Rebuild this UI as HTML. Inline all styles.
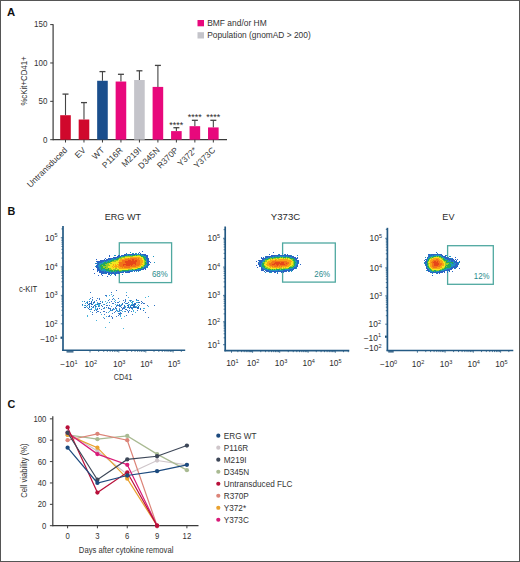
<!DOCTYPE html>
<html><head><meta charset="utf-8"><style>
html,body{margin:0;padding:0;background:#fff;}
#fig{position:relative;width:520px;height:562px;overflow:hidden;}
svg{display:block;font-family:"Liberation Sans", sans-serif;}
</style></head><body><div id="fig">
<svg width="520" height="562" viewBox="0 0 520 562">
<rect x="0" y="0" width="520" height="562" fill="#fff"/>
<text x="6.90" y="15.50" font-size="11.3" fill="#111" text-anchor="start" font-weight="bold" >A</text>
<line x1="53.1" y1="24.2" x2="53.1" y2="140.29999999999998" stroke="#3a3a3a" stroke-width="1.2"/>
<line x1="52.9" y1="139.7" x2="227" y2="139.7" stroke="#3a3a3a" stroke-width="1.3"/>
<line x1="50.2" y1="139.70" x2="53.1" y2="139.70" stroke="#3a3a3a" stroke-width="1"/>
<text x="47.40" y="142.50" font-size="8.5" fill="#333" text-anchor="end" textLength="4.45" lengthAdjust="spacingAndGlyphs" >0</text>
<line x1="50.2" y1="101.33" x2="53.1" y2="101.33" stroke="#3a3a3a" stroke-width="1"/>
<text x="47.40" y="104.13" font-size="8.5" fill="#333" text-anchor="end" textLength="8.90" lengthAdjust="spacingAndGlyphs" >50</text>
<line x1="50.2" y1="62.97" x2="53.1" y2="62.97" stroke="#3a3a3a" stroke-width="1"/>
<text x="47.40" y="65.77" font-size="8.5" fill="#333" text-anchor="end" textLength="13.35" lengthAdjust="spacingAndGlyphs" >100</text>
<line x1="50.2" y1="24.60" x2="53.1" y2="24.60" stroke="#3a3a3a" stroke-width="1"/>
<text x="47.40" y="27.40" font-size="8.5" fill="#333" text-anchor="end" textLength="13.35" lengthAdjust="spacingAndGlyphs" >150</text>
<line x1="65.50" y1="94.10" x2="65.50" y2="115.22" stroke="#444" stroke-width="1.1"/>
<line x1="62.50" y1="94.10" x2="68.50" y2="94.10" stroke="#444" stroke-width="1.3"/>
<rect x="60.20" y="115.22" width="10.6" height="24.48" fill="#d0082c"/>
<line x1="65.50" y1="139.7" x2="65.50" y2="142.5" stroke="#3a3a3a" stroke-width="1"/>
<text x="0.00" y="0.00" font-size="8.5" fill="#333" text-anchor="end" transform="translate(67.90,150.70) rotate(-45)">Untransduced</text>
<line x1="83.98" y1="102.60" x2="83.98" y2="119.52" stroke="#444" stroke-width="1.1"/>
<line x1="80.98" y1="102.60" x2="86.98" y2="102.60" stroke="#444" stroke-width="1.3"/>
<rect x="78.68" y="119.52" width="10.6" height="20.18" fill="#d0082c"/>
<line x1="83.98" y1="139.7" x2="83.98" y2="142.5" stroke="#3a3a3a" stroke-width="1"/>
<text x="0.00" y="0.00" font-size="8.5" fill="#333" text-anchor="end" transform="translate(86.38,150.70) rotate(-45)">EV</text>
<line x1="102.46" y1="71.60" x2="102.46" y2="80.77" stroke="#444" stroke-width="1.1"/>
<line x1="99.46" y1="71.60" x2="105.46" y2="71.60" stroke="#444" stroke-width="1.3"/>
<rect x="97.16" y="80.77" width="10.6" height="58.93" fill="#1a4e8c"/>
<line x1="102.46" y1="139.7" x2="102.46" y2="142.5" stroke="#3a3a3a" stroke-width="1"/>
<text x="0.00" y="0.00" font-size="8.5" fill="#333" text-anchor="end" transform="translate(104.86,150.70) rotate(-45)">WT</text>
<line x1="120.94" y1="74.30" x2="120.94" y2="81.54" stroke="#444" stroke-width="1.1"/>
<line x1="117.94" y1="74.30" x2="123.94" y2="74.30" stroke="#444" stroke-width="1.3"/>
<rect x="115.64" y="81.54" width="10.6" height="58.16" fill="#e8087c"/>
<line x1="120.94" y1="139.7" x2="120.94" y2="142.5" stroke="#3a3a3a" stroke-width="1"/>
<text x="0.00" y="0.00" font-size="8.5" fill="#333" text-anchor="end" transform="translate(123.34,150.70) rotate(-45)">P116R</text>
<line x1="139.42" y1="70.80" x2="139.42" y2="80.00" stroke="#444" stroke-width="1.1"/>
<line x1="136.42" y1="70.80" x2="142.42" y2="70.80" stroke="#444" stroke-width="1.3"/>
<rect x="134.12" y="80.00" width="10.6" height="59.70" fill="#c4c4ca"/>
<line x1="139.42" y1="139.7" x2="139.42" y2="142.5" stroke="#3a3a3a" stroke-width="1"/>
<text x="0.00" y="0.00" font-size="8.5" fill="#333" text-anchor="end" transform="translate(141.82,150.70) rotate(-45)">M219I</text>
<line x1="157.90" y1="65.40" x2="157.90" y2="86.91" stroke="#444" stroke-width="1.1"/>
<line x1="154.90" y1="65.40" x2="160.90" y2="65.40" stroke="#444" stroke-width="1.3"/>
<rect x="152.60" y="86.91" width="10.6" height="52.79" fill="#e8087c"/>
<line x1="157.90" y1="139.7" x2="157.90" y2="142.5" stroke="#3a3a3a" stroke-width="1"/>
<text x="0.00" y="0.00" font-size="8.5" fill="#333" text-anchor="end" transform="translate(160.30,150.70) rotate(-45)">D345N</text>
<line x1="176.38" y1="127.70" x2="176.38" y2="131.11" stroke="#444" stroke-width="1.1"/>
<line x1="173.38" y1="127.70" x2="179.38" y2="127.70" stroke="#444" stroke-width="1.3"/>
<rect x="171.08" y="131.11" width="10.6" height="8.59" fill="#e8087c"/>
<line x1="176.38" y1="139.7" x2="176.38" y2="142.5" stroke="#3a3a3a" stroke-width="1"/>
<text x="0.00" y="0.00" font-size="8.5" fill="#333" text-anchor="end" transform="translate(178.78,150.70) rotate(-45)">R370P</text>
<line x1="194.86" y1="120.30" x2="194.86" y2="126.19" stroke="#444" stroke-width="1.1"/>
<line x1="191.86" y1="120.30" x2="197.86" y2="120.30" stroke="#444" stroke-width="1.3"/>
<rect x="189.56" y="126.19" width="10.6" height="13.51" fill="#e8087c"/>
<line x1="194.86" y1="139.7" x2="194.86" y2="142.5" stroke="#3a3a3a" stroke-width="1"/>
<text x="0.00" y="0.00" font-size="8.5" fill="#333" text-anchor="end" transform="translate(197.26,150.70) rotate(-45)">Y372*</text>
<line x1="213.34" y1="120.30" x2="213.34" y2="127.42" stroke="#444" stroke-width="1.1"/>
<line x1="210.34" y1="120.30" x2="216.34" y2="120.30" stroke="#444" stroke-width="1.3"/>
<rect x="208.04" y="127.42" width="10.6" height="12.28" fill="#e8087c"/>
<line x1="213.34" y1="139.7" x2="213.34" y2="142.5" stroke="#3a3a3a" stroke-width="1"/>
<text x="0.00" y="0.00" font-size="8.5" fill="#333" text-anchor="end" transform="translate(215.74,150.70) rotate(-45)">Y373C</text>
<text x="176.38" y="127.90" font-size="8.2" fill="#2a2a2a" text-anchor="middle" textLength="14.00" lengthAdjust="spacingAndGlyphs" >****</text>
<text x="194.86" y="120.30" font-size="8.2" fill="#2a2a2a" text-anchor="middle" textLength="14.00" lengthAdjust="spacingAndGlyphs" >****</text>
<text x="213.34" y="120.30" font-size="8.2" fill="#2a2a2a" text-anchor="middle" textLength="14.00" lengthAdjust="spacingAndGlyphs" >****</text>
<text x="0.00" y="0.00" font-size="8.6" fill="#333" text-anchor="middle" textLength="49.20" lengthAdjust="spacingAndGlyphs" transform="translate(27.2,81) rotate(-90)">%cKit+CD41+</text>
<rect x="197.5" y="20" width="6.5" height="6.3" fill="#e8087c"/>
<rect x="197.5" y="32.2" width="6.5" height="6.3" fill="#c4c4ca"/>
<text x="207.20" y="26.10" font-size="8.2" fill="#333" text-anchor="start" textLength="59.50" lengthAdjust="spacingAndGlyphs" >BMF and/or HM</text>
<text x="207.20" y="37.80" font-size="8.2" fill="#333" text-anchor="start" textLength="103.50" lengthAdjust="spacingAndGlyphs" >Population (gnomAD &gt; 200)</text>
<text x="7.40" y="214.80" font-size="10.8" fill="#111" text-anchor="start" font-weight="bold" >B</text>
<text x="122.90" y="219.80" font-size="9.6" fill="#2a2a2a" text-anchor="middle" textLength="36.30" lengthAdjust="spacingAndGlyphs" >ERG WT</text>
<rect x="96" y="309" width="1" height="1" fill="#46b4dc"/>
<rect x="97" y="308" width="1" height="1" fill="#3c78c8"/>
<rect x="120" y="313" width="1" height="1" fill="#3c78c8"/>
<rect x="115" y="304" width="1" height="1" fill="#3c78c8"/>
<rect x="135" y="312" width="1" height="1" fill="#46b4dc"/>
<rect x="133" y="305" width="1" height="1" fill="#3c78c8"/>
<rect x="115" y="307" width="1" height="1" fill="#3c78c8"/>
<rect x="122" y="308" width="1" height="1" fill="#3c78c8"/>
<rect x="129" y="308" width="1" height="1" fill="#3c78c8"/>
<rect x="123" y="300" width="1" height="1" fill="#3c78c8"/>
<rect x="93" y="307" width="1" height="1" fill="#3c78c8"/>
<rect x="105" y="327" width="1" height="1" fill="#46b4dc"/>
<rect x="125" y="299" width="1" height="1" fill="#3c78c8"/>
<rect x="115" y="311" width="1" height="1" fill="#3c78c8"/>
<rect x="115" y="300" width="1" height="1" fill="#46b4dc"/>
<rect x="87" y="316" width="1" height="1" fill="#46b4dc"/>
<rect x="123" y="307" width="1" height="1" fill="#46b4dc"/>
<rect x="109" y="308" width="1" height="1" fill="#3c78c8"/>
<rect x="115" y="302" width="1" height="1" fill="#3c78c8"/>
<rect x="96" y="320" width="1" height="1" fill="#46b4dc"/>
<rect x="121" y="310" width="1" height="1" fill="#3c78c8"/>
<rect x="137" y="310" width="1" height="1" fill="#3c78c8"/>
<rect x="99" y="304" width="1" height="1" fill="#3c78c8"/>
<rect x="113" y="303" width="1" height="1" fill="#3c78c8"/>
<rect x="124" y="311" width="1" height="1" fill="#3c78c8"/>
<rect x="109" y="322" width="1" height="1" fill="#46b4dc"/>
<rect x="104" y="318" width="1" height="1" fill="#3c78c8"/>
<rect x="92" y="314" width="1" height="1" fill="#3c78c8"/>
<rect x="148" y="317" width="1" height="1" fill="#3c78c8"/>
<rect x="112" y="317" width="1" height="1" fill="#3c78c8"/>
<rect x="112" y="309" width="1" height="1" fill="#3c78c8"/>
<rect x="104" y="304" width="1" height="1" fill="#3c78c8"/>
<rect x="103" y="311" width="1" height="1" fill="#46b4dc"/>
<rect x="95" y="307" width="1" height="1" fill="#46b4dc"/>
<rect x="117" y="310" width="1" height="1" fill="#46b4dc"/>
<rect x="118" y="302" width="1" height="1" fill="#3c78c8"/>
<rect x="111" y="292" width="1" height="1" fill="#3c78c8"/>
<rect x="141" y="303" width="1" height="1" fill="#3c78c8"/>
<rect x="108" y="308" width="1" height="1" fill="#3c78c8"/>
<rect x="124" y="305" width="1" height="1" fill="#46b4dc"/>
<rect x="112" y="318" width="1" height="1" fill="#3c78c8"/>
<rect x="111" y="310" width="1" height="1" fill="#46b4dc"/>
<rect x="123" y="308" width="1" height="1" fill="#3c78c8"/>
<rect x="125" y="300" width="1" height="1" fill="#3c78c8"/>
<rect x="122" y="304" width="1" height="1" fill="#3c78c8"/>
<rect x="112" y="313" width="1" height="1" fill="#3c78c8"/>
<rect x="120" y="312" width="1" height="1" fill="#3c78c8"/>
<rect x="122" y="311" width="1" height="1" fill="#46b4dc"/>
<rect x="134" y="305" width="1" height="1" fill="#46b4dc"/>
<rect x="107" y="305" width="1" height="1" fill="#3c78c8"/>
<rect x="144" y="308" width="1" height="1" fill="#46b4dc"/>
<rect x="116" y="306" width="1" height="1" fill="#3c78c8"/>
<rect x="91" y="308" width="1" height="1" fill="#3c78c8"/>
<rect x="119" y="306" width="1" height="1" fill="#3c78c8"/>
<rect x="111" y="294" width="1" height="1" fill="#46b4dc"/>
<rect x="106" y="296" width="1" height="1" fill="#46b4dc"/>
<rect x="101" y="314" width="1" height="1" fill="#46b4dc"/>
<rect x="124" y="302" width="1" height="1" fill="#46b4dc"/>
<rect x="125" y="301" width="1" height="1" fill="#3c78c8"/>
<rect x="100" y="312" width="1" height="1" fill="#3c78c8"/>
<rect x="131" y="311" width="1" height="1" fill="#46b4dc"/>
<rect x="130" y="300" width="1" height="1" fill="#3c78c8"/>
<rect x="112" y="299" width="1" height="1" fill="#3c78c8"/>
<rect x="117" y="304" width="1" height="1" fill="#46b4dc"/>
<rect x="132" y="308" width="1" height="1" fill="#3c78c8"/>
<rect x="116" y="316" width="1" height="1" fill="#3c78c8"/>
<rect x="90" y="298" width="1" height="1" fill="#3c78c8"/>
<rect x="125" y="307" width="1" height="1" fill="#46b4dc"/>
<rect x="116" y="310" width="1" height="1" fill="#46b4dc"/>
<rect x="105" y="301" width="1" height="1" fill="#46b4dc"/>
<rect x="104" y="314" width="1" height="1" fill="#3c78c8"/>
<rect x="90" y="311" width="1" height="1" fill="#46b4dc"/>
<rect x="124" y="302" width="1" height="1" fill="#3c78c8"/>
<rect x="110" y="309" width="1" height="1" fill="#3c78c8"/>
<rect x="128" y="297" width="1" height="1" fill="#46b4dc"/>
<rect x="124" y="305" width="1" height="1" fill="#3c78c8"/>
<rect x="103" y="308" width="1" height="1" fill="#3c78c8"/>
<rect x="97" y="311" width="1" height="1" fill="#3c78c8"/>
<rect x="103" y="317" width="1" height="1" fill="#46b4dc"/>
<rect x="108" y="307" width="1" height="1" fill="#3c78c8"/>
<rect x="116" y="305" width="1" height="1" fill="#46b4dc"/>
<rect x="103" y="304" width="1" height="1" fill="#46b4dc"/>
<rect x="121" y="307" width="1" height="1" fill="#3c78c8"/>
<rect x="140" y="308" width="1" height="1" fill="#3c78c8"/>
<rect x="116" y="308" width="1" height="1" fill="#3c78c8"/>
<rect x="95" y="309" width="1" height="1" fill="#46b4dc"/>
<rect x="126" y="292" width="1" height="1" fill="#46b4dc"/>
<rect x="118" y="313" width="1" height="1" fill="#3c78c8"/>
<rect x="129" y="307" width="1" height="1" fill="#46b4dc"/>
<rect x="118" y="311" width="1" height="1" fill="#3c78c8"/>
<rect x="108" y="300" width="1" height="1" fill="#3c78c8"/>
<rect x="114" y="301" width="1" height="1" fill="#46b4dc"/>
<rect x="118" y="305" width="1" height="1" fill="#46b4dc"/>
<rect x="112" y="303" width="1" height="1" fill="#3c78c8"/>
<rect x="92" y="297" width="1" height="1" fill="#3c78c8"/>
<rect x="87" y="301" width="1" height="1" fill="#46b4dc"/>
<rect x="128" y="304" width="1" height="1" fill="#46b4dc"/>
<rect x="120" y="316" width="1" height="1" fill="#46b4dc"/>
<rect x="99" y="299" width="1" height="1" fill="#3c78c8"/>
<rect x="145" y="297" width="1" height="1" fill="#46b4dc"/>
<rect x="89" y="304" width="1" height="1" fill="#3c78c8"/>
<rect x="137" y="300" width="1" height="1" fill="#3c78c8"/>
<rect x="127" y="310" width="1" height="1" fill="#3c78c8"/>
<rect x="115" y="300" width="1" height="1" fill="#3c78c8"/>
<rect x="115" y="304" width="1" height="1" fill="#46b4dc"/>
<rect x="119" y="311" width="1" height="1" fill="#46b4dc"/>
<rect x="119" y="309" width="1" height="1" fill="#3c78c8"/>
<rect x="109" y="295" width="1" height="1" fill="#46b4dc"/>
<rect x="129" y="304" width="1" height="1" fill="#46b4dc"/>
<rect x="122" y="309" width="1" height="1" fill="#3c78c8"/>
<rect x="108" y="316" width="1" height="1" fill="#3c78c8"/>
<rect x="87" y="305" width="1" height="1" fill="#3c78c8"/>
<rect x="108" y="312" width="1" height="1" fill="#46b4dc"/>
<rect x="121" y="304" width="1" height="1" fill="#46b4dc"/>
<rect x="130" y="305" width="1" height="1" fill="#3c78c8"/>
<rect x="119" y="314" width="1" height="1" fill="#3c78c8"/>
<rect x="111" y="306" width="1" height="1" fill="#46b4dc"/>
<rect x="99" y="306" width="1" height="1" fill="#46b4dc"/>
<rect x="98" y="304" width="1" height="1" fill="#46b4dc"/>
<rect x="129" y="310" width="1" height="1" fill="#3c78c8"/>
<rect x="144" y="303" width="1" height="1" fill="#3c78c8"/>
<rect x="106" y="307" width="1" height="1" fill="#3c78c8"/>
<rect x="126" y="295" width="1" height="1" fill="#3c78c8"/>
<rect x="110" y="310" width="1" height="1" fill="#3c78c8"/>
<rect x="120" y="305" width="1" height="1" fill="#46b4dc"/>
<rect x="123" y="307" width="1" height="1" fill="#3c78c8"/>
<rect x="109" y="302" width="1" height="1" fill="#3c78c8"/>
<rect x="109" y="305" width="1" height="1" fill="#46b4dc"/>
<rect x="125" y="311" width="1" height="1" fill="#3c78c8"/>
<rect x="119" y="313" width="1" height="1" fill="#3c78c8"/>
<rect x="103" y="311" width="1" height="1" fill="#3c78c8"/>
<rect x="119" y="310" width="1" height="1" fill="#3c78c8"/>
<rect x="102" y="301" width="1" height="1" fill="#46b4dc"/>
<rect x="92" y="299" width="1" height="1" fill="#3c78c8"/>
<rect x="112" y="296" width="1" height="1" fill="#46b4dc"/>
<rect x="109" y="311" width="1" height="1" fill="#46b4dc"/>
<rect x="123" y="328" width="1" height="1" fill="#46b4dc"/>
<rect x="120" y="310" width="1" height="1" fill="#46b4dc"/>
<rect x="113" y="309" width="1" height="1" fill="#46b4dc"/>
<rect x="92" y="312" width="1" height="1" fill="#3c78c8"/>
<rect x="96" y="312" width="1" height="1" fill="#3c78c8"/>
<rect x="120" y="315" width="1" height="1" fill="#46b4dc"/>
<rect x="120" y="306" width="1" height="1" fill="#3c78c8"/>
<rect x="114" y="299" width="1" height="1" fill="#46b4dc"/>
<rect x="116" y="309" width="1" height="1" fill="#3c78c8"/>
<rect x="131" y="308" width="1" height="1" fill="#3c78c8"/>
<rect x="106" y="305" width="1" height="1" fill="#3c78c8"/>
<rect x="121" y="318" width="1" height="1" fill="#46b4dc"/>
<rect x="119" y="305" width="1" height="1" fill="#3c78c8"/>
<rect x="128" y="304" width="1" height="1" fill="#46b4dc"/>
<rect x="106" y="312" width="1" height="1" fill="#3c78c8"/>
<rect x="96" y="310" width="1" height="1" fill="#3c78c8"/>
<rect x="105" y="295" width="1" height="1" fill="#3c78c8"/>
<rect x="91" y="309" width="1" height="1" fill="#3c78c8"/>
<rect x="116" y="310" width="1" height="1" fill="#3c78c8"/>
<rect x="143" y="308" width="1" height="1" fill="#46b4dc"/>
<rect x="106" y="295" width="1" height="1" fill="#3c78c8"/>
<rect x="98" y="311" width="1" height="1" fill="#3c78c8"/>
<rect x="139" y="305" width="1" height="1" fill="#3c78c8"/>
<rect x="133" y="301" width="1" height="1" fill="#46b4dc"/>
<rect x="119" y="301" width="1" height="1" fill="#46b4dc"/>
<rect x="129" y="300" width="1" height="1" fill="#46b4dc"/>
<rect x="115" y="300" width="1" height="1" fill="#46b4dc"/>
<rect x="125" y="309" width="1" height="1" fill="#3c78c8"/>
<rect x="127" y="307" width="1" height="1" fill="#3c78c8"/>
<rect x="106" y="303" width="1" height="1" fill="#46b4dc"/>
<rect x="107" y="302" width="1" height="1" fill="#46b4dc"/>
<rect x="98" y="303" width="1" height="1" fill="#3c78c8"/>
<rect x="134" y="306" width="1" height="1" fill="#46b4dc"/>
<rect x="116" y="290" width="1" height="1" fill="#3c78c8"/>
<rect x="96" y="300" width="1" height="1" fill="#3c78c8"/>
<rect x="110" y="308" width="1" height="1" fill="#3c78c8"/>
<rect x="109" y="308" width="1" height="1" fill="#3c78c8"/>
<rect x="128" y="302" width="1" height="1" fill="#3c78c8"/>
<rect x="131" y="305" width="1" height="1" fill="#46b4dc"/>
<rect x="97" y="298" width="1" height="1" fill="#3c78c8"/>
<rect x="94" y="301" width="1" height="1" fill="#3c78c8"/>
<rect x="121" y="305" width="1" height="1" fill="#3c78c8"/>
<rect x="121" y="313" width="1" height="1" fill="#3c78c8"/>
<rect x="145" y="312" width="1" height="1" fill="#3c78c8"/>
<rect x="95" y="305" width="1" height="1" fill="#3c78c8"/>
<rect x="109" y="315" width="1" height="1" fill="#3c78c8"/>
<rect x="109" y="316" width="1" height="1" fill="#3c78c8"/>
<rect x="124" y="307" width="1" height="1" fill="#3c78c8"/>
<rect x="126" y="315" width="1" height="1" fill="#3c78c8"/>
<rect x="132" y="301" width="1" height="1" fill="#3c78c8"/>
<rect x="147" y="305" width="1" height="1" fill="#3c78c8"/>
<rect x="126" y="303" width="1" height="1" fill="#3c78c8"/>
<rect x="124" y="306" width="1" height="1" fill="#3c78c8"/>
<rect x="134" y="303" width="1" height="1" fill="#3c78c8"/>
<rect x="139" y="305" width="1" height="1" fill="#3c78c8"/>
<rect x="128" y="312" width="1" height="1" fill="#3c78c8"/>
<rect x="115" y="308" width="1" height="1" fill="#3c78c8"/>
<rect x="124" y="311" width="1" height="1" fill="#46b4dc"/>
<rect x="103" y="308" width="1" height="1" fill="#3c78c8"/>
<rect x="92" y="312" width="1" height="1" fill="#3c78c8"/>
<rect x="148" y="306" width="1" height="1" fill="#46b4dc"/>
<rect x="114" y="309" width="1" height="1" fill="#46b4dc"/>
<rect x="118" y="298" width="1" height="1" fill="#3c78c8"/>
<rect x="111" y="316" width="1" height="1" fill="#3c78c8"/>
<rect x="97" y="302" width="1" height="1" fill="#46b4dc"/>
<rect x="117" y="311" width="1" height="1" fill="#46b4dc"/>
<rect x="138" y="300" width="1" height="1" fill="#3c78c8"/>
<rect x="124" y="308" width="1" height="1" fill="#3c78c8"/>
<rect x="109" y="305" width="1" height="1" fill="#3c78c8"/>
<rect x="119" y="308" width="1" height="1" fill="#46b4dc"/>
<rect x="95" y="304" width="1" height="1" fill="#3c78c8"/>
<rect x="104" y="307" width="1" height="1" fill="#3c78c8"/>
<rect x="113" y="295" width="1" height="1" fill="#3c78c8"/>
<rect x="132" y="314" width="1" height="1" fill="#3c78c8"/>
<rect x="115" y="302" width="1" height="1" fill="#3c78c8"/>
<rect x="112" y="317" width="1" height="1" fill="#3c78c8"/>
<rect x="90" y="292" width="1" height="1" fill="#3c78c8"/>
<rect x="91" y="304" width="1" height="1" fill="#46b4dc"/>
<rect x="101" y="309" width="1" height="1" fill="#3c78c8"/>
<rect x="118" y="305" width="1" height="1" fill="#3c78c8"/>
<rect x="99" y="304" width="1" height="1" fill="#46b4dc"/>
<rect x="106" y="316" width="1" height="1" fill="#3c78c8"/>
<rect x="118" y="315" width="1" height="1" fill="#3c78c8"/>
<rect x="106" y="316" width="1" height="1" fill="#46b4dc"/>
<rect x="112" y="310" width="1" height="1" fill="#3c78c8"/>
<rect x="111" y="301" width="1" height="1" fill="#3c78c8"/>
<rect x="109" y="299" width="1" height="1" fill="#46b4dc"/>
<rect x="142" y="302" width="1" height="1" fill="#3c78c8"/>
<rect x="117" y="302" width="1" height="1" fill="#3c78c8"/>
<rect x="87" y="315" width="1" height="1" fill="#46b4dc"/>
<rect x="114" y="312" width="1" height="1" fill="#3c78c8"/>
<rect x="104" y="311" width="1" height="1" fill="#3c78c8"/>
<rect x="120" y="314" width="1" height="1" fill="#46b4dc"/>
<rect x="88" y="304" width="1" height="1" fill="#3c78c8"/>
<rect x="124" y="316" width="1" height="1" fill="#46b4dc"/>
<rect x="113" y="308" width="1" height="1" fill="#3c78c8"/>
<rect x="96" y="304" width="1" height="1" fill="#46b4dc"/>
<rect x="99" y="298" width="1" height="1" fill="#3c78c8"/>
<rect x="90" y="303" width="1" height="1" fill="#3c78c8"/>
<rect x="133" y="311" width="1" height="1" fill="#46b4dc"/>
<rect x="131" y="311" width="1" height="1" fill="#3c78c8"/>
<rect x="113" y="298" width="1" height="1" fill="#3c78c8"/>
<rect x="84" y="305" width="1" height="1" fill="#3cafd7"/>
<rect x="92" y="304" width="1" height="1" fill="#286ebe"/>
<rect x="90" y="309" width="1" height="1" fill="#3cafd7"/>
<rect x="86" y="302" width="1" height="1" fill="#3cafd7"/>
<rect x="95" y="306" width="1" height="1" fill="#286ebe"/>
<rect x="93" y="303" width="1" height="1" fill="#3cafd7"/>
<rect x="98" y="306" width="1" height="1" fill="#286ebe"/>
<rect x="84" y="307" width="1" height="1" fill="#286ebe"/>
<rect x="102" y="306" width="1" height="1" fill="#286ebe"/>
<rect x="104" y="308" width="1" height="1" fill="#3cafd7"/>
<rect x="95" y="306" width="1" height="1" fill="#286ebe"/>
<rect x="89" y="307" width="1" height="1" fill="#286ebe"/>
<rect x="91" y="303" width="1" height="1" fill="#286ebe"/>
<rect x="94" y="302" width="1" height="1" fill="#286ebe"/>
<rect x="87" y="302" width="1" height="1" fill="#286ebe"/>
<rect x="99" y="305" width="1" height="1" fill="#3cafd7"/>
<rect x="99" y="303" width="1" height="1" fill="#286ebe"/>
<rect x="87" y="307" width="1" height="1" fill="#3cafd7"/>
<rect x="94" y="305" width="1" height="1" fill="#286ebe"/>
<rect x="82" y="304" width="1" height="1" fill="#286ebe"/>
<rect x="101" y="305" width="1" height="1" fill="#286ebe"/>
<rect x="88" y="304" width="1" height="1" fill="#286ebe"/>
<rect x="85" y="307" width="1" height="1" fill="#286ebe"/>
<rect x="89" y="303" width="1" height="1" fill="#3cafd7"/>
<rect x="95" y="304" width="1" height="1" fill="#286ebe"/>
<rect x="90" y="303" width="1" height="1" fill="#286ebe"/>
<rect x="93" y="306" width="1" height="1" fill="#286ebe"/>
<rect x="97" y="303" width="1" height="1" fill="#3cafd7"/>
<rect x="97" y="309" width="1" height="1" fill="#286ebe"/>
<rect x="95" y="308" width="1" height="1" fill="#3cafd7"/>
<rect x="95" y="304" width="1" height="1" fill="#3cafd7"/>
<rect x="89" y="306" width="1" height="1" fill="#286ebe"/>
<rect x="98" y="305" width="1" height="1" fill="#3cafd7"/>
<rect x="97" y="304" width="1" height="1" fill="#286ebe"/>
<rect x="88" y="308" width="1" height="1" fill="#3cafd7"/>
<rect x="89" y="303" width="1" height="1" fill="#286ebe"/>
<rect x="85" y="305" width="1" height="1" fill="#286ebe"/>
<rect x="102" y="302" width="1" height="1" fill="#286ebe"/>
<rect x="89" y="309" width="1" height="1" fill="#286ebe"/>
<rect x="97" y="303" width="1" height="1" fill="#3cafd7"/>
<rect x="91" y="302" width="1" height="1" fill="#286ebe"/>
<rect x="91" y="308" width="1" height="1" fill="#3cafd7"/>
<rect x="99" y="308" width="1" height="1" fill="#286ebe"/>
<rect x="92" y="307" width="1" height="1" fill="#3cafd7"/>
<rect x="85" y="303" width="1" height="1" fill="#3cafd7"/>
<rect x="100" y="303" width="1" height="1" fill="#286ebe"/>
<rect x="82" y="301" width="1" height="1" fill="#3cafd7"/>
<rect x="87" y="303" width="1" height="1" fill="#286ebe"/>
<rect x="91" y="301" width="1" height="1" fill="#286ebe"/>
<rect x="89" y="299" width="1" height="1" fill="#3cafd7"/>
<rect x="100" y="301" width="1" height="1" fill="#286ebe"/>
<rect x="93" y="302" width="1" height="1" fill="#286ebe"/>
<rect x="89" y="306" width="1" height="1" fill="#3cafd7"/>
<rect x="89" y="301" width="1" height="1" fill="#286ebe"/>
<rect x="96" y="306" width="1" height="1" fill="#3cafd7"/>
<rect x="89" y="305" width="1" height="1" fill="#286ebe"/>
<rect x="88" y="308" width="1" height="1" fill="#286ebe"/>
<rect x="95" y="305" width="1" height="1" fill="#3cafd7"/>
<rect x="92" y="300" width="1" height="1" fill="#3cafd7"/>
<rect x="91" y="304" width="1" height="1" fill="#286ebe"/>
<rect x="89" y="305" width="1" height="1" fill="#3cafd7"/>
<rect x="89" y="306" width="1" height="1" fill="#286ebe"/>
<rect x="92" y="304" width="1" height="1" fill="#286ebe"/>
<rect x="91" y="306" width="1" height="1" fill="#286ebe"/>
<rect x="94" y="310" width="1" height="1" fill="#286ebe"/>
<rect x="91" y="303" width="1" height="1" fill="#286ebe"/>
<rect x="84" y="301" width="1" height="1" fill="#286ebe"/>
<rect x="82" y="305" width="1" height="1" fill="#3cafd7"/>
<rect x="92" y="307" width="1" height="1" fill="#3cafd7"/>
<rect x="86" y="306" width="1" height="1" fill="#3cafd7"/>
<rect x="132" y="309" width="1" height="1" fill="#3cafd7"/>
<rect x="135" y="303" width="1" height="1" fill="#286ebe"/>
<rect x="135" y="306" width="1" height="1" fill="#3cafd7"/>
<rect x="138" y="307" width="1" height="1" fill="#286ebe"/>
<rect x="131" y="307" width="1" height="1" fill="#3cafd7"/>
<rect x="132" y="304" width="1" height="1" fill="#286ebe"/>
<rect x="140" y="309" width="1" height="1" fill="#3cafd7"/>
<rect x="136" y="300" width="1" height="1" fill="#3cafd7"/>
<rect x="143" y="303" width="1" height="1" fill="#286ebe"/>
<rect x="137" y="302" width="1" height="1" fill="#3cafd7"/>
<rect x="127" y="303" width="1" height="1" fill="#286ebe"/>
<rect x="128" y="306" width="1" height="1" fill="#286ebe"/>
<rect x="137" y="300" width="1" height="1" fill="#3cafd7"/>
<rect x="130" y="301" width="1" height="1" fill="#3cafd7"/>
<rect x="138" y="308" width="1" height="1" fill="#286ebe"/>
<rect x="134" y="306" width="1" height="1" fill="#286ebe"/>
<rect x="132" y="308" width="1" height="1" fill="#286ebe"/>
<rect x="130" y="305" width="1" height="1" fill="#286ebe"/>
<rect x="133" y="307" width="1" height="1" fill="#286ebe"/>
<rect x="131" y="305" width="1" height="1" fill="#3cafd7"/>
<rect x="138" y="304" width="1" height="1" fill="#3cafd7"/>
<rect x="134" y="304" width="1" height="1" fill="#286ebe"/>
<rect x="136" y="299" width="1" height="1" fill="#286ebe"/>
<rect x="136" y="307" width="1" height="1" fill="#3cafd7"/>
<rect x="141" y="301" width="1" height="1" fill="#286ebe"/>
<rect x="136" y="302" width="1" height="1" fill="#3cafd7"/>
<rect x="143" y="310" width="1" height="1" fill="#286ebe"/>
<rect x="132" y="303" width="1" height="1" fill="#286ebe"/>
<rect x="125" y="303" width="1" height="1" fill="#286ebe"/>
<rect x="132" y="302" width="1" height="1" fill="#286ebe"/>
<rect x="137" y="308" width="1" height="1" fill="#286ebe"/>
<rect x="133" y="306" width="1" height="1" fill="#286ebe"/>
<rect x="125" y="303" width="1" height="1" fill="#286ebe"/>
<rect x="127" y="305" width="1" height="1" fill="#286ebe"/>
<rect x="154" y="305" width="1" height="1" fill="#286ebe"/>
<rect x="131" y="307" width="1" height="1" fill="#286ebe"/>
<rect x="138" y="306" width="1" height="1" fill="#286ebe"/>
<rect x="133" y="304" width="1" height="1" fill="#286ebe"/>
<rect x="117" y="305" width="1" height="1" fill="#286ebe"/>
<rect x="124" y="305" width="1" height="1" fill="#286ebe"/>
<rect x="139" y="305" width="1" height="1" fill="#3cafd7"/>
<rect x="132" y="302" width="1" height="1" fill="#3cafd7"/>
<rect x="135" y="303" width="1" height="1" fill="#286ebe"/>
<rect x="130" y="306" width="1" height="1" fill="#286ebe"/>
<rect x="134" y="307" width="1" height="1" fill="#286ebe"/>
<rect x="130" y="305" width="1" height="1" fill="#3cafd7"/>
<rect x="132" y="304" width="1" height="1" fill="#3cafd7"/>
<rect x="135" y="307" width="1" height="1" fill="#286ebe"/>
<rect x="130" y="307" width="1" height="1" fill="#286ebe"/>
<rect x="140" y="309" width="1" height="1" fill="#286ebe"/>
<rect x="134" y="303" width="1" height="1" fill="#286ebe"/>
<rect x="131" y="305" width="1" height="1" fill="#286ebe"/>
<rect x="128" y="307" width="1" height="1" fill="#3cafd7"/>
<rect x="134" y="304" width="1" height="1" fill="#286ebe"/>
<rect x="140" y="308" width="1" height="1" fill="#286ebe"/>
<rect x="138" y="302" width="1" height="1" fill="#286ebe"/>
<rect x="137" y="305" width="1" height="1" fill="#3cafd7"/>
<rect x="137" y="307" width="1" height="1" fill="#286ebe"/>
<rect x="126" y="309" width="1" height="1" fill="#286ebe"/>
<rect x="131" y="300" width="1" height="1" fill="#3cafd7"/>
<rect x="119" y="304" width="1" height="1" fill="#286ebe"/>
<rect x="125" y="303" width="1" height="1" fill="#3cafd7"/>
<rect x="135" y="304" width="1" height="1" fill="#286ebe"/>
<rect x="122" y="303" width="1" height="1" fill="#286ebe"/>
<rect x="128" y="311" width="1" height="1" fill="#286ebe"/>
<rect x="134" y="305" width="1" height="1" fill="#286ebe"/>
<rect x="132" y="303" width="1" height="1" fill="#3cafd7"/>
<rect x="148" y="296" width="1" height="1" fill="#3cafd7"/>
<rect x="125" y="306" width="1" height="1" fill="#3cafd7"/>
<rect x="131" y="302" width="1" height="1" fill="#3cafd7"/>
<rect x="136" y="306" width="1" height="1" fill="#3cafd7"/>
<rect x="128" y="305" width="1" height="1" fill="#3cafd7"/>
<rect x="132" y="305" width="1" height="1" fill="#286ebe"/>
<rect x="132" y="307" width="1" height="1" fill="#3cafd7"/>
<rect x="133" y="310" width="1" height="1" fill="#3cafd7"/>
<rect x="116" y="309" width="1" height="1" fill="#3cafd7"/>
<rect x="128" y="305" width="1" height="1" fill="#286ebe"/>
<rect x="139" y="302" width="1" height="1" fill="#286ebe"/>
<rect x="128" y="307" width="1" height="1" fill="#286ebe"/>
<rect x="131" y="304" width="1" height="1" fill="#3cafd7"/>
<rect x="119.3" y="242.8" width="52.3" height="39.80000000000001" fill="none" stroke="#4fa8a0" stroke-width="1.3"/>
<text x="151.9" y="276.7" font-size="8.2" fill="#288a8c" textLength="15.8" lengthAdjust="spacingAndGlyphs">68%</text>
<rect x="142" y="251" width="1" height="1" fill="#2a64c4"/>
<rect x="130" y="252" width="1" height="1" fill="#1e96be"/>
<rect x="139" y="252" width="1" height="1" fill="#2a64c4"/>
<rect x="126" y="253" width="1" height="1" fill="#2a64c4"/>
<rect x="132" y="253" width="2" height="1" fill="#1e96be"/>
<rect x="135" y="253" width="2" height="1" fill="#1e96be"/>
<rect x="138" y="253" width="1" height="1" fill="#2a64c4"/>
<rect x="140" y="253" width="1" height="1" fill="#2a64c4"/>
<rect x="124" y="254" width="2" height="1" fill="#2a64c4"/>
<rect x="126" y="254" width="2" height="1" fill="#1e96be"/>
<rect x="128" y="254" width="8" height="1" fill="#2a64c4"/>
<rect x="136" y="254" width="4" height="1" fill="#1e96be"/>
<rect x="140" y="254" width="1" height="1" fill="#2a64c4"/>
<rect x="141" y="254" width="1" height="1" fill="#1e96be"/>
<rect x="142" y="254" width="4" height="1" fill="#2a64c4"/>
<rect x="109" y="255" width="1" height="1" fill="#2a64c4"/>
<rect x="114" y="255" width="2" height="1" fill="#1e96be"/>
<rect x="118" y="255" width="2" height="1" fill="#2a64c4"/>
<rect x="121" y="255" width="6" height="1" fill="#2a64c4"/>
<rect x="127" y="255" width="1" height="1" fill="#1e96be"/>
<rect x="128" y="255" width="1" height="1" fill="#24aa5a"/>
<rect x="129" y="255" width="1" height="1" fill="#1e96be"/>
<rect x="130" y="255" width="1" height="1" fill="#24aa5a"/>
<rect x="131" y="255" width="1" height="1" fill="#1e96be"/>
<rect x="132" y="255" width="3" height="1" fill="#24aa5a"/>
<rect x="135" y="255" width="1" height="1" fill="#96cd28"/>
<rect x="136" y="255" width="1" height="1" fill="#24aa5a"/>
<rect x="137" y="255" width="3" height="1" fill="#96cd28"/>
<rect x="140" y="255" width="1" height="1" fill="#24aa5a"/>
<rect x="141" y="255" width="3" height="1" fill="#1e96be"/>
<rect x="144" y="255" width="4" height="1" fill="#2a64c4"/>
<rect x="109" y="256" width="1" height="1" fill="#2a64c4"/>
<rect x="117" y="256" width="4" height="1" fill="#2a64c4"/>
<rect x="121" y="256" width="2" height="1" fill="#1e96be"/>
<rect x="123" y="256" width="2" height="1" fill="#24aa5a"/>
<rect x="125" y="256" width="8" height="1" fill="#96cd28"/>
<rect x="133" y="256" width="8" height="1" fill="#f5e61e"/>
<rect x="141" y="256" width="3" height="1" fill="#24aa5a"/>
<rect x="144" y="256" width="2" height="1" fill="#1e96be"/>
<rect x="146" y="256" width="2" height="1" fill="#2a64c4"/>
<rect x="153" y="256" width="1" height="1" fill="#1e96be"/>
<rect x="113" y="257" width="6" height="1" fill="#2a64c4"/>
<rect x="119" y="257" width="2" height="1" fill="#24aa5a"/>
<rect x="121" y="257" width="4" height="1" fill="#96cd28"/>
<rect x="125" y="257" width="5" height="1" fill="#f5e61e"/>
<rect x="130" y="257" width="10" height="1" fill="#f8a514"/>
<rect x="140" y="257" width="3" height="1" fill="#f5e61e"/>
<rect x="143" y="257" width="3" height="1" fill="#24aa5a"/>
<rect x="146" y="257" width="2" height="1" fill="#2a64c4"/>
<rect x="105" y="258" width="1" height="1" fill="#2a64c4"/>
<rect x="108" y="258" width="5" height="1" fill="#2a64c4"/>
<rect x="113" y="258" width="1" height="1" fill="#1e96be"/>
<rect x="114" y="258" width="2" height="1" fill="#2a64c4"/>
<rect x="116" y="258" width="1" height="1" fill="#1e96be"/>
<rect x="117" y="258" width="2" height="1" fill="#24aa5a"/>
<rect x="119" y="258" width="3" height="1" fill="#96cd28"/>
<rect x="122" y="258" width="2" height="1" fill="#f5e61e"/>
<rect x="124" y="258" width="4" height="1" fill="#f8a514"/>
<rect x="128" y="258" width="1" height="1" fill="#f27319"/>
<rect x="129" y="258" width="1" height="1" fill="#f8a514"/>
<rect x="130" y="258" width="7" height="1" fill="#f27319"/>
<rect x="137" y="258" width="1" height="1" fill="#f8a514"/>
<rect x="138" y="258" width="1" height="1" fill="#f27319"/>
<rect x="139" y="258" width="3" height="1" fill="#f8a514"/>
<rect x="142" y="258" width="1" height="1" fill="#f5e61e"/>
<rect x="143" y="258" width="1" height="1" fill="#96cd28"/>
<rect x="144" y="258" width="1" height="1" fill="#24aa5a"/>
<rect x="145" y="258" width="1" height="1" fill="#1e96be"/>
<rect x="146" y="258" width="3" height="1" fill="#2a64c4"/>
<rect x="96" y="259" width="1" height="1" fill="#2a64c4"/>
<rect x="104" y="259" width="1" height="1" fill="#2a64c4"/>
<rect x="106" y="259" width="5" height="1" fill="#2a64c4"/>
<rect x="111" y="259" width="2" height="1" fill="#1e96be"/>
<rect x="113" y="259" width="1" height="1" fill="#24aa5a"/>
<rect x="114" y="259" width="2" height="1" fill="#1e96be"/>
<rect x="116" y="259" width="2" height="1" fill="#24aa5a"/>
<rect x="118" y="259" width="1" height="1" fill="#96cd28"/>
<rect x="119" y="259" width="1" height="1" fill="#f5e61e"/>
<rect x="120" y="259" width="5" height="1" fill="#f8a514"/>
<rect x="125" y="259" width="7" height="1" fill="#f27319"/>
<rect x="132" y="259" width="2" height="1" fill="#e64619"/>
<rect x="134" y="259" width="5" height="1" fill="#f27319"/>
<rect x="139" y="259" width="3" height="1" fill="#f8a514"/>
<rect x="142" y="259" width="2" height="1" fill="#f5e61e"/>
<rect x="144" y="259" width="2" height="1" fill="#24aa5a"/>
<rect x="146" y="259" width="1" height="1" fill="#1e96be"/>
<rect x="147" y="259" width="2" height="1" fill="#2a64c4"/>
<rect x="100" y="260" width="8" height="1" fill="#2a64c4"/>
<rect x="108" y="260" width="3" height="1" fill="#1e96be"/>
<rect x="111" y="260" width="3" height="1" fill="#24aa5a"/>
<rect x="114" y="260" width="4" height="1" fill="#96cd28"/>
<rect x="118" y="260" width="1" height="1" fill="#f5e61e"/>
<rect x="119" y="260" width="3" height="1" fill="#f8a514"/>
<rect x="122" y="260" width="6" height="1" fill="#f27319"/>
<rect x="128" y="260" width="3" height="1" fill="#e64619"/>
<rect x="131" y="260" width="1" height="1" fill="#f27319"/>
<rect x="132" y="260" width="2" height="1" fill="#e64619"/>
<rect x="134" y="260" width="1" height="1" fill="#f27319"/>
<rect x="135" y="260" width="2" height="1" fill="#e64619"/>
<rect x="137" y="260" width="3" height="1" fill="#f27319"/>
<rect x="140" y="260" width="3" height="1" fill="#f8a514"/>
<rect x="143" y="260" width="1" height="1" fill="#f5e61e"/>
<rect x="144" y="260" width="1" height="1" fill="#96cd28"/>
<rect x="145" y="260" width="1" height="1" fill="#24aa5a"/>
<rect x="146" y="260" width="1" height="1" fill="#1e96be"/>
<rect x="147" y="260" width="2" height="1" fill="#2a64c4"/>
<rect x="96" y="261" width="8" height="1" fill="#2a64c4"/>
<rect x="104" y="261" width="1" height="1" fill="#1e96be"/>
<rect x="105" y="261" width="1" height="1" fill="#2a64c4"/>
<rect x="106" y="261" width="2" height="1" fill="#1e96be"/>
<rect x="108" y="261" width="1" height="1" fill="#24aa5a"/>
<rect x="109" y="261" width="1" height="1" fill="#1e96be"/>
<rect x="110" y="261" width="2" height="1" fill="#24aa5a"/>
<rect x="112" y="261" width="4" height="1" fill="#96cd28"/>
<rect x="116" y="261" width="3" height="1" fill="#f5e61e"/>
<rect x="119" y="261" width="3" height="1" fill="#f8a514"/>
<rect x="122" y="261" width="3" height="1" fill="#f27319"/>
<rect x="125" y="261" width="12" height="1" fill="#e64619"/>
<rect x="137" y="261" width="3" height="1" fill="#f27319"/>
<rect x="140" y="261" width="3" height="1" fill="#f8a514"/>
<rect x="143" y="261" width="1" height="1" fill="#f5e61e"/>
<rect x="144" y="261" width="2" height="1" fill="#96cd28"/>
<rect x="146" y="261" width="1" height="1" fill="#1e96be"/>
<rect x="147" y="261" width="3" height="1" fill="#2a64c4"/>
<rect x="97" y="262" width="5" height="1" fill="#2a64c4"/>
<rect x="102" y="262" width="2" height="1" fill="#1e96be"/>
<rect x="104" y="262" width="2" height="1" fill="#24aa5a"/>
<rect x="106" y="262" width="1" height="1" fill="#1e96be"/>
<rect x="107" y="262" width="3" height="1" fill="#24aa5a"/>
<rect x="110" y="262" width="1" height="1" fill="#96cd28"/>
<rect x="111" y="262" width="7" height="1" fill="#f5e61e"/>
<rect x="118" y="262" width="1" height="1" fill="#f8a514"/>
<rect x="119" y="262" width="6" height="1" fill="#f27319"/>
<rect x="125" y="262" width="11" height="1" fill="#e64619"/>
<rect x="136" y="262" width="4" height="1" fill="#f27319"/>
<rect x="140" y="262" width="3" height="1" fill="#f8a514"/>
<rect x="143" y="262" width="1" height="1" fill="#f5e61e"/>
<rect x="144" y="262" width="1" height="1" fill="#96cd28"/>
<rect x="145" y="262" width="1" height="1" fill="#24aa5a"/>
<rect x="146" y="262" width="1" height="1" fill="#1e96be"/>
<rect x="147" y="262" width="2" height="1" fill="#2a64c4"/>
<rect x="150" y="262" width="1" height="1" fill="#2a64c4"/>
<rect x="154" y="262" width="1" height="1" fill="#1e96be"/>
<rect x="95" y="263" width="1" height="1" fill="#1e96be"/>
<rect x="96" y="263" width="1" height="1" fill="#2a64c4"/>
<rect x="97" y="263" width="1" height="1" fill="#1e96be"/>
<rect x="98" y="263" width="1" height="1" fill="#2a64c4"/>
<rect x="99" y="263" width="4" height="1" fill="#1e96be"/>
<rect x="103" y="263" width="4" height="1" fill="#24aa5a"/>
<rect x="107" y="263" width="2" height="1" fill="#96cd28"/>
<rect x="109" y="263" width="1" height="1" fill="#f5e61e"/>
<rect x="110" y="263" width="2" height="1" fill="#96cd28"/>
<rect x="112" y="263" width="7" height="1" fill="#f5e61e"/>
<rect x="119" y="263" width="7" height="1" fill="#f27319"/>
<rect x="126" y="263" width="10" height="1" fill="#e64619"/>
<rect x="136" y="263" width="4" height="1" fill="#f27319"/>
<rect x="140" y="263" width="2" height="1" fill="#f8a514"/>
<rect x="142" y="263" width="2" height="1" fill="#f5e61e"/>
<rect x="144" y="263" width="1" height="1" fill="#96cd28"/>
<rect x="145" y="263" width="2" height="1" fill="#24aa5a"/>
<rect x="147" y="263" width="2" height="1" fill="#2a64c4"/>
<rect x="97" y="264" width="2" height="1" fill="#2a64c4"/>
<rect x="99" y="264" width="2" height="1" fill="#1e96be"/>
<rect x="101" y="264" width="4" height="1" fill="#24aa5a"/>
<rect x="105" y="264" width="4" height="1" fill="#96cd28"/>
<rect x="109" y="264" width="4" height="1" fill="#f5e61e"/>
<rect x="113" y="264" width="1" height="1" fill="#f8a514"/>
<rect x="114" y="264" width="1" height="1" fill="#f5e61e"/>
<rect x="115" y="264" width="1" height="1" fill="#f8a514"/>
<rect x="116" y="264" width="1" height="1" fill="#f5e61e"/>
<rect x="117" y="264" width="2" height="1" fill="#f8a514"/>
<rect x="119" y="264" width="4" height="1" fill="#f27319"/>
<rect x="123" y="264" width="10" height="1" fill="#e64619"/>
<rect x="133" y="264" width="2" height="1" fill="#f27319"/>
<rect x="135" y="264" width="1" height="1" fill="#e64619"/>
<rect x="136" y="264" width="4" height="1" fill="#f27319"/>
<rect x="140" y="264" width="3" height="1" fill="#f8a514"/>
<rect x="143" y="264" width="1" height="1" fill="#f5e61e"/>
<rect x="144" y="264" width="1" height="1" fill="#96cd28"/>
<rect x="145" y="264" width="1" height="1" fill="#24aa5a"/>
<rect x="146" y="264" width="1" height="1" fill="#1e96be"/>
<rect x="147" y="264" width="2" height="1" fill="#2a64c4"/>
<rect x="149" y="264" width="1" height="1" fill="#1e96be"/>
<rect x="96" y="265" width="2" height="1" fill="#2a64c4"/>
<rect x="98" y="265" width="2" height="1" fill="#1e96be"/>
<rect x="100" y="265" width="2" height="1" fill="#24aa5a"/>
<rect x="102" y="265" width="1" height="1" fill="#96cd28"/>
<rect x="103" y="265" width="3" height="1" fill="#24aa5a"/>
<rect x="106" y="265" width="4" height="1" fill="#96cd28"/>
<rect x="110" y="265" width="3" height="1" fill="#f5e61e"/>
<rect x="113" y="265" width="1" height="1" fill="#f8a514"/>
<rect x="114" y="265" width="1" height="1" fill="#f5e61e"/>
<rect x="115" y="265" width="2" height="1" fill="#f8a514"/>
<rect x="117" y="265" width="1" height="1" fill="#f5e61e"/>
<rect x="118" y="265" width="1" height="1" fill="#f8a514"/>
<rect x="119" y="265" width="4" height="1" fill="#f27319"/>
<rect x="123" y="265" width="1" height="1" fill="#e64619"/>
<rect x="124" y="265" width="2" height="1" fill="#f27319"/>
<rect x="126" y="265" width="4" height="1" fill="#e64619"/>
<rect x="130" y="265" width="1" height="1" fill="#f27319"/>
<rect x="131" y="265" width="1" height="1" fill="#e64619"/>
<rect x="132" y="265" width="7" height="1" fill="#f27319"/>
<rect x="139" y="265" width="2" height="1" fill="#f8a514"/>
<rect x="141" y="265" width="2" height="1" fill="#f5e61e"/>
<rect x="143" y="265" width="1" height="1" fill="#96cd28"/>
<rect x="144" y="265" width="1" height="1" fill="#24aa5a"/>
<rect x="145" y="265" width="2" height="1" fill="#1e96be"/>
<rect x="147" y="265" width="1" height="1" fill="#2a64c4"/>
<rect x="148" y="265" width="1" height="1" fill="#1e96be"/>
<rect x="95" y="266" width="1" height="1" fill="#1e96be"/>
<rect x="96" y="266" width="2" height="1" fill="#2a64c4"/>
<rect x="98" y="266" width="2" height="1" fill="#1e96be"/>
<rect x="100" y="266" width="3" height="1" fill="#24aa5a"/>
<rect x="103" y="266" width="5" height="1" fill="#96cd28"/>
<rect x="108" y="266" width="4" height="1" fill="#f5e61e"/>
<rect x="112" y="266" width="1" height="1" fill="#f8a514"/>
<rect x="113" y="266" width="1" height="1" fill="#f5e61e"/>
<rect x="114" y="266" width="6" height="1" fill="#f8a514"/>
<rect x="120" y="266" width="16" height="1" fill="#f27319"/>
<rect x="136" y="266" width="4" height="1" fill="#f8a514"/>
<rect x="140" y="266" width="1" height="1" fill="#f5e61e"/>
<rect x="141" y="266" width="3" height="1" fill="#96cd28"/>
<rect x="144" y="266" width="2" height="1" fill="#1e96be"/>
<rect x="146" y="266" width="2" height="1" fill="#2a64c4"/>
<rect x="96" y="267" width="3" height="1" fill="#2a64c4"/>
<rect x="99" y="267" width="2" height="1" fill="#1e96be"/>
<rect x="101" y="267" width="2" height="1" fill="#24aa5a"/>
<rect x="103" y="267" width="2" height="1" fill="#96cd28"/>
<rect x="105" y="267" width="1" height="1" fill="#24aa5a"/>
<rect x="106" y="267" width="2" height="1" fill="#96cd28"/>
<rect x="108" y="267" width="5" height="1" fill="#f5e61e"/>
<rect x="113" y="267" width="1" height="1" fill="#f8a514"/>
<rect x="114" y="267" width="1" height="1" fill="#f5e61e"/>
<rect x="115" y="267" width="2" height="1" fill="#f8a514"/>
<rect x="117" y="267" width="1" height="1" fill="#f5e61e"/>
<rect x="118" y="267" width="4" height="1" fill="#f8a514"/>
<rect x="122" y="267" width="1" height="1" fill="#f27319"/>
<rect x="123" y="267" width="1" height="1" fill="#f8a514"/>
<rect x="124" y="267" width="6" height="1" fill="#f27319"/>
<rect x="130" y="267" width="8" height="1" fill="#f8a514"/>
<rect x="138" y="267" width="3" height="1" fill="#f5e61e"/>
<rect x="141" y="267" width="2" height="1" fill="#24aa5a"/>
<rect x="143" y="267" width="1" height="1" fill="#1e96be"/>
<rect x="144" y="267" width="2" height="1" fill="#2a64c4"/>
<rect x="146" y="267" width="2" height="1" fill="#1e96be"/>
<rect x="97" y="268" width="2" height="1" fill="#2a64c4"/>
<rect x="99" y="268" width="2" height="1" fill="#1e96be"/>
<rect x="101" y="268" width="4" height="1" fill="#24aa5a"/>
<rect x="105" y="268" width="3" height="1" fill="#96cd28"/>
<rect x="108" y="268" width="1" height="1" fill="#24aa5a"/>
<rect x="109" y="268" width="2" height="1" fill="#96cd28"/>
<rect x="111" y="268" width="4" height="1" fill="#f5e61e"/>
<rect x="115" y="268" width="2" height="1" fill="#96cd28"/>
<rect x="117" y="268" width="2" height="1" fill="#f5e61e"/>
<rect x="119" y="268" width="13" height="1" fill="#f8a514"/>
<rect x="132" y="268" width="5" height="1" fill="#f5e61e"/>
<rect x="137" y="268" width="1" height="1" fill="#96cd28"/>
<rect x="138" y="268" width="4" height="1" fill="#24aa5a"/>
<rect x="142" y="268" width="1" height="1" fill="#1e96be"/>
<rect x="143" y="268" width="3" height="1" fill="#2a64c4"/>
<rect x="93" y="269" width="1" height="1" fill="#2a64c4"/>
<rect x="97" y="269" width="3" height="1" fill="#2a64c4"/>
<rect x="100" y="269" width="1" height="1" fill="#1e96be"/>
<rect x="101" y="269" width="1" height="1" fill="#24aa5a"/>
<rect x="102" y="269" width="3" height="1" fill="#1e96be"/>
<rect x="105" y="269" width="4" height="1" fill="#24aa5a"/>
<rect x="109" y="269" width="3" height="1" fill="#96cd28"/>
<rect x="112" y="269" width="1" height="1" fill="#f5e61e"/>
<rect x="113" y="269" width="3" height="1" fill="#96cd28"/>
<rect x="116" y="269" width="1" height="1" fill="#f5e61e"/>
<rect x="117" y="269" width="2" height="1" fill="#96cd28"/>
<rect x="119" y="269" width="9" height="1" fill="#f5e61e"/>
<rect x="128" y="269" width="4" height="1" fill="#96cd28"/>
<rect x="132" y="269" width="1" height="1" fill="#24aa5a"/>
<rect x="133" y="269" width="2" height="1" fill="#96cd28"/>
<rect x="135" y="269" width="2" height="1" fill="#24aa5a"/>
<rect x="137" y="269" width="3" height="1" fill="#1e96be"/>
<rect x="140" y="269" width="4" height="1" fill="#2a64c4"/>
<rect x="145" y="269" width="1" height="1" fill="#2a64c4"/>
<rect x="97" y="270" width="4" height="1" fill="#2a64c4"/>
<rect x="101" y="270" width="5" height="1" fill="#1e96be"/>
<rect x="106" y="270" width="7" height="1" fill="#24aa5a"/>
<rect x="113" y="270" width="1" height="1" fill="#96cd28"/>
<rect x="114" y="270" width="5" height="1" fill="#24aa5a"/>
<rect x="119" y="270" width="3" height="1" fill="#96cd28"/>
<rect x="122" y="270" width="7" height="1" fill="#24aa5a"/>
<rect x="129" y="270" width="4" height="1" fill="#1e96be"/>
<rect x="133" y="270" width="1" height="1" fill="#2a64c4"/>
<rect x="134" y="270" width="1" height="1" fill="#1e96be"/>
<rect x="135" y="270" width="5" height="1" fill="#2a64c4"/>
<rect x="140" y="270" width="1" height="1" fill="#1e96be"/>
<rect x="97" y="271" width="1" height="1" fill="#2a64c4"/>
<rect x="99" y="271" width="5" height="1" fill="#2a64c4"/>
<rect x="104" y="271" width="1" height="1" fill="#1e96be"/>
<rect x="105" y="271" width="1" height="1" fill="#2a64c4"/>
<rect x="106" y="271" width="3" height="1" fill="#1e96be"/>
<rect x="109" y="271" width="1" height="1" fill="#24aa5a"/>
<rect x="110" y="271" width="1" height="1" fill="#1e96be"/>
<rect x="111" y="271" width="2" height="1" fill="#24aa5a"/>
<rect x="113" y="271" width="1" height="1" fill="#1e96be"/>
<rect x="114" y="271" width="1" height="1" fill="#24aa5a"/>
<rect x="115" y="271" width="1" height="1" fill="#1e96be"/>
<rect x="116" y="271" width="1" height="1" fill="#24aa5a"/>
<rect x="117" y="271" width="2" height="1" fill="#2a64c4"/>
<rect x="119" y="271" width="2" height="1" fill="#24aa5a"/>
<rect x="121" y="271" width="2" height="1" fill="#1e96be"/>
<rect x="123" y="271" width="1" height="1" fill="#2a64c4"/>
<rect x="124" y="271" width="1" height="1" fill="#1e96be"/>
<rect x="125" y="271" width="1" height="1" fill="#2a64c4"/>
<rect x="126" y="271" width="1" height="1" fill="#1e96be"/>
<rect x="127" y="271" width="5" height="1" fill="#2a64c4"/>
<rect x="132" y="271" width="1" height="1" fill="#1e96be"/>
<rect x="134" y="271" width="1" height="1" fill="#2a64c4"/>
<rect x="136" y="271" width="1" height="1" fill="#1e96be"/>
<rect x="138" y="271" width="1" height="1" fill="#1e96be"/>
<rect x="99" y="272" width="11" height="1" fill="#2a64c4"/>
<rect x="110" y="272" width="1" height="1" fill="#1e96be"/>
<rect x="111" y="272" width="3" height="1" fill="#2a64c4"/>
<rect x="114" y="272" width="1" height="1" fill="#1e96be"/>
<rect x="115" y="272" width="9" height="1" fill="#2a64c4"/>
<rect x="125" y="272" width="5" height="1" fill="#2a64c4"/>
<rect x="94" y="273" width="1" height="1" fill="#2a64c4"/>
<rect x="101" y="273" width="3" height="1" fill="#2a64c4"/>
<rect x="104" y="273" width="1" height="1" fill="#1e96be"/>
<rect x="105" y="273" width="2" height="1" fill="#2a64c4"/>
<rect x="108" y="273" width="9" height="1" fill="#2a64c4"/>
<rect x="117" y="273" width="1" height="1" fill="#1e96be"/>
<rect x="118" y="273" width="2" height="1" fill="#2a64c4"/>
<rect x="101" y="274" width="1" height="1" fill="#2a64c4"/>
<rect x="108" y="274" width="2" height="1" fill="#2a64c4"/>
<rect x="111" y="274" width="1" height="1" fill="#1e96be"/>
<rect x="114" y="274" width="1" height="1" fill="#1e96be"/>
<rect x="115" y="274" width="1" height="1" fill="#2a64c4"/>
<rect x="122" y="274" width="1" height="1" fill="#1e96be"/>
<rect x="98" y="275" width="1" height="1" fill="#2a64c4"/>
<rect x="102" y="275" width="1" height="1" fill="#2a64c4"/>
<rect x="110" y="275" width="1" height="1" fill="#1e96be"/>
<rect x="115" y="275" width="1" height="1" fill="#2a64c4"/>
<rect x="107" y="276" width="1" height="1" fill="#2a64c4"/>
<line x1="63.0" y1="226.0" x2="63.0" y2="351.0" stroke="#245a84" stroke-width="1.7"/>
<line x1="62.2" y1="350.3" x2="185.2" y2="350.3" stroke="#245a84" stroke-width="1.6"/>
<path d="M61.40 315.25h1.6M61.40 310.25h1.6M61.40 306.70h1.6M61.40 303.95h1.6M61.40 301.70h1.6M61.40 299.80h1.6M61.40 298.15h1.6M61.40 296.70h1.6M61.40 286.82h1.6M61.40 281.80h1.6M61.40 278.24h1.6M61.40 275.48h1.6M61.40 273.22h1.6M61.40 271.31h1.6M61.40 269.66h1.6M61.40 268.20h1.6M61.40 258.11h1.6M61.40 252.97h1.6M61.40 249.32h1.6M61.40 246.49h1.6M61.40 244.18h1.6M61.40 242.22h1.6M61.40 240.53h1.6M61.40 239.04h1.6M61.40 228.91h1.6M60.80 323.80h2.2M60.80 295.40h2.2M60.80 266.90h2.2M60.80 237.70h2.2M98.67 350.30v1.6M103.74 350.30v1.6M107.34 350.30v1.6M110.13 350.30v1.6M112.41 350.30v1.6M114.34 350.30v1.6M116.01 350.30v1.6M117.48 350.30v1.6M126.93 350.30v1.6M131.68 350.30v1.6M135.06 350.30v1.6M137.67 350.30v1.6M139.81 350.30v1.6M141.62 350.30v1.6M143.18 350.30v1.6M144.56 350.30v1.6M154.02 350.30v1.6M158.83 350.30v1.6M162.24 350.30v1.6M164.88 350.30v1.6M167.04 350.30v1.6M168.87 350.30v1.6M170.45 350.30v1.6M171.85 350.30v1.6M181.32 350.30v1.6M90.00 350.30v2.2M118.80 350.30v2.2M145.80 350.30v2.2M173.10 350.30v2.2" stroke="#245a84" stroke-width="0.8" fill="none"/>
<text x="57.50" y="240.70" font-size="8.4" fill="#2e2e2e" text-anchor="end">10<tspan font-size="5.54" dy="-3.3">5</tspan></text>
<text x="57.50" y="269.90" font-size="8.4" fill="#2e2e2e" text-anchor="end">10<tspan font-size="5.54" dy="-3.3">4</tspan></text>
<text x="57.50" y="298.40" font-size="8.4" fill="#2e2e2e" text-anchor="end">10<tspan font-size="5.54" dy="-3.3">3</tspan></text>
<text x="57.50" y="326.80" font-size="8.4" fill="#2e2e2e" text-anchor="end">10<tspan font-size="5.54" dy="-3.3">2</tspan></text>
<text x="57.50" y="342.20" font-size="8.4" fill="#2e2e2e" text-anchor="end">−10<tspan font-size="5.54" dy="-3.3">1</tspan></text>
<text x="60.30" y="367.20" font-size="8.4" fill="#2e2e2e" text-anchor="start">−10<tspan font-size="5.54" dy="-3.3">1</tspan></text>
<text x="84.60" y="367.20" font-size="8.4" fill="#2e2e2e" text-anchor="start">10<tspan font-size="5.54" dy="-3.3">2</tspan></text>
<text x="113.00" y="367.20" font-size="8.4" fill="#2e2e2e" text-anchor="start">10<tspan font-size="5.54" dy="-3.3">3</tspan></text>
<text x="140.20" y="367.20" font-size="8.4" fill="#2e2e2e" text-anchor="start">10<tspan font-size="5.54" dy="-3.3">4</tspan></text>
<text x="167.80" y="367.20" font-size="8.4" fill="#2e2e2e" text-anchor="start">10<tspan font-size="5.54" dy="-3.3">5</tspan></text>
<rect x="60.5" y="336.6" width="1.8" height="2.2" fill="#1d4f78"/>
<rect x="66.5" y="351.0" width="7" height="1.6" fill="#1d4f78" opacity="0.8"/>
<text x="18.90" y="292.20" font-size="8.4" fill="#2a2a2a" text-anchor="start" textLength="18.40" lengthAdjust="spacingAndGlyphs" >c-KIT</text>
<text x="113.80" y="380.00" font-size="9.5" fill="#333" text-anchor="start" textLength="18.50" lengthAdjust="spacingAndGlyphs" >CD41</text>
<text x="285.50" y="219.80" font-size="9.6" fill="#2a2a2a" text-anchor="middle" textLength="29.40" lengthAdjust="spacingAndGlyphs" >Y373C</text>
<rect x="282.6" y="243" width="52.69999999999999" height="39.10000000000002" fill="none" stroke="#4fa8a0" stroke-width="1.3"/>
<text x="314.3" y="276.9" font-size="8.2" fill="#288a8c" textLength="15.8" lengthAdjust="spacingAndGlyphs">26%</text>
<rect x="273" y="252" width="1" height="1" fill="#2a64c4"/>
<rect x="282" y="253" width="1" height="1" fill="#1e96be"/>
<rect x="269" y="254" width="1" height="1" fill="#2a64c4"/>
<rect x="278" y="254" width="1" height="1" fill="#1e96be"/>
<rect x="279" y="254" width="1" height="1" fill="#2a64c4"/>
<rect x="284" y="254" width="1" height="1" fill="#1e96be"/>
<rect x="285" y="254" width="1" height="1" fill="#2a64c4"/>
<rect x="287" y="254" width="1" height="1" fill="#2a64c4"/>
<rect x="271" y="255" width="20" height="1" fill="#2a64c4"/>
<rect x="291" y="255" width="1" height="1" fill="#1e96be"/>
<rect x="297" y="255" width="1" height="1" fill="#1e96be"/>
<rect x="265" y="256" width="1" height="1" fill="#1e96be"/>
<rect x="266" y="256" width="7" height="1" fill="#2a64c4"/>
<rect x="273" y="256" width="1" height="1" fill="#1e96be"/>
<rect x="274" y="256" width="1" height="1" fill="#2a64c4"/>
<rect x="275" y="256" width="2" height="1" fill="#1e96be"/>
<rect x="277" y="256" width="1" height="1" fill="#2a64c4"/>
<rect x="278" y="256" width="7" height="1" fill="#1e96be"/>
<rect x="285" y="256" width="1" height="1" fill="#2a64c4"/>
<rect x="286" y="256" width="2" height="1" fill="#1e96be"/>
<rect x="288" y="256" width="6" height="1" fill="#2a64c4"/>
<rect x="261" y="257" width="1" height="1" fill="#2a64c4"/>
<rect x="263" y="257" width="1" height="1" fill="#2a64c4"/>
<rect x="265" y="257" width="3" height="1" fill="#2a64c4"/>
<rect x="268" y="257" width="1" height="1" fill="#1e96be"/>
<rect x="269" y="257" width="1" height="1" fill="#2a64c4"/>
<rect x="270" y="257" width="1" height="1" fill="#1e96be"/>
<rect x="271" y="257" width="1" height="1" fill="#24aa5a"/>
<rect x="272" y="257" width="2" height="1" fill="#1e96be"/>
<rect x="274" y="257" width="6" height="1" fill="#24aa5a"/>
<rect x="280" y="257" width="1" height="1" fill="#96cd28"/>
<rect x="281" y="257" width="1" height="1" fill="#24aa5a"/>
<rect x="282" y="257" width="1" height="1" fill="#96cd28"/>
<rect x="283" y="257" width="3" height="1" fill="#24aa5a"/>
<rect x="286" y="257" width="1" height="1" fill="#96cd28"/>
<rect x="287" y="257" width="3" height="1" fill="#24aa5a"/>
<rect x="290" y="257" width="2" height="1" fill="#1e96be"/>
<rect x="292" y="257" width="4" height="1" fill="#2a64c4"/>
<rect x="297" y="257" width="1" height="1" fill="#2a64c4"/>
<rect x="261" y="258" width="5" height="1" fill="#2a64c4"/>
<rect x="266" y="258" width="2" height="1" fill="#1e96be"/>
<rect x="268" y="258" width="2" height="1" fill="#24aa5a"/>
<rect x="270" y="258" width="2" height="1" fill="#96cd28"/>
<rect x="272" y="258" width="1" height="1" fill="#24aa5a"/>
<rect x="273" y="258" width="3" height="1" fill="#96cd28"/>
<rect x="276" y="258" width="1" height="1" fill="#f5e61e"/>
<rect x="277" y="258" width="2" height="1" fill="#96cd28"/>
<rect x="279" y="258" width="4" height="1" fill="#f5e61e"/>
<rect x="283" y="258" width="1" height="1" fill="#96cd28"/>
<rect x="284" y="258" width="1" height="1" fill="#f5e61e"/>
<rect x="285" y="258" width="1" height="1" fill="#96cd28"/>
<rect x="286" y="258" width="1" height="1" fill="#f5e61e"/>
<rect x="287" y="258" width="1" height="1" fill="#96cd28"/>
<rect x="288" y="258" width="1" height="1" fill="#f5e61e"/>
<rect x="289" y="258" width="1" height="1" fill="#96cd28"/>
<rect x="290" y="258" width="4" height="1" fill="#24aa5a"/>
<rect x="294" y="258" width="4" height="1" fill="#2a64c4"/>
<rect x="262" y="259" width="2" height="1" fill="#2a64c4"/>
<rect x="264" y="259" width="1" height="1" fill="#1e96be"/>
<rect x="265" y="259" width="3" height="1" fill="#24aa5a"/>
<rect x="268" y="259" width="1" height="1" fill="#96cd28"/>
<rect x="269" y="259" width="1" height="1" fill="#f5e61e"/>
<rect x="270" y="259" width="1" height="1" fill="#96cd28"/>
<rect x="271" y="259" width="1" height="1" fill="#f5e61e"/>
<rect x="272" y="259" width="1" height="1" fill="#f8a514"/>
<rect x="273" y="259" width="2" height="1" fill="#f5e61e"/>
<rect x="275" y="259" width="2" height="1" fill="#f8a514"/>
<rect x="277" y="259" width="1" height="1" fill="#f5e61e"/>
<rect x="278" y="259" width="10" height="1" fill="#f8a514"/>
<rect x="288" y="259" width="3" height="1" fill="#f5e61e"/>
<rect x="291" y="259" width="2" height="1" fill="#96cd28"/>
<rect x="293" y="259" width="2" height="1" fill="#24aa5a"/>
<rect x="295" y="259" width="2" height="1" fill="#2a64c4"/>
<rect x="258" y="260" width="5" height="1" fill="#2a64c4"/>
<rect x="263" y="260" width="2" height="1" fill="#1e96be"/>
<rect x="265" y="260" width="2" height="1" fill="#96cd28"/>
<rect x="267" y="260" width="3" height="1" fill="#f5e61e"/>
<rect x="270" y="260" width="5" height="1" fill="#f8a514"/>
<rect x="275" y="260" width="1" height="1" fill="#f27319"/>
<rect x="276" y="260" width="15" height="1" fill="#f8a514"/>
<rect x="291" y="260" width="1" height="1" fill="#f5e61e"/>
<rect x="292" y="260" width="1" height="1" fill="#96cd28"/>
<rect x="293" y="260" width="2" height="1" fill="#24aa5a"/>
<rect x="295" y="260" width="1" height="1" fill="#1e96be"/>
<rect x="296" y="260" width="3" height="1" fill="#2a64c4"/>
<rect x="256" y="261" width="1" height="1" fill="#2a64c4"/>
<rect x="259" y="261" width="3" height="1" fill="#2a64c4"/>
<rect x="262" y="261" width="2" height="1" fill="#1e96be"/>
<rect x="264" y="261" width="1" height="1" fill="#24aa5a"/>
<rect x="265" y="261" width="2" height="1" fill="#96cd28"/>
<rect x="267" y="261" width="1" height="1" fill="#f5e61e"/>
<rect x="268" y="261" width="4" height="1" fill="#f8a514"/>
<rect x="272" y="261" width="15" height="1" fill="#f27319"/>
<rect x="287" y="261" width="5" height="1" fill="#f8a514"/>
<rect x="292" y="261" width="1" height="1" fill="#f5e61e"/>
<rect x="293" y="261" width="1" height="1" fill="#96cd28"/>
<rect x="294" y="261" width="1" height="1" fill="#24aa5a"/>
<rect x="295" y="261" width="2" height="1" fill="#1e96be"/>
<rect x="297" y="261" width="2" height="1" fill="#2a64c4"/>
<rect x="258" y="262" width="1" height="1" fill="#2a64c4"/>
<rect x="259" y="262" width="1" height="1" fill="#1e96be"/>
<rect x="260" y="262" width="2" height="1" fill="#2a64c4"/>
<rect x="262" y="262" width="1" height="1" fill="#1e96be"/>
<rect x="263" y="262" width="2" height="1" fill="#96cd28"/>
<rect x="265" y="262" width="2" height="1" fill="#f5e61e"/>
<rect x="267" y="262" width="4" height="1" fill="#f8a514"/>
<rect x="271" y="262" width="4" height="1" fill="#f27319"/>
<rect x="275" y="262" width="5" height="1" fill="#e64619"/>
<rect x="280" y="262" width="1" height="1" fill="#f27319"/>
<rect x="281" y="262" width="3" height="1" fill="#e64619"/>
<rect x="284" y="262" width="5" height="1" fill="#f27319"/>
<rect x="289" y="262" width="2" height="1" fill="#f8a514"/>
<rect x="291" y="262" width="2" height="1" fill="#f5e61e"/>
<rect x="293" y="262" width="1" height="1" fill="#96cd28"/>
<rect x="294" y="262" width="2" height="1" fill="#24aa5a"/>
<rect x="296" y="262" width="1" height="1" fill="#1e96be"/>
<rect x="297" y="262" width="2" height="1" fill="#2a64c4"/>
<rect x="258" y="263" width="3" height="1" fill="#2a64c4"/>
<rect x="261" y="263" width="1" height="1" fill="#1e96be"/>
<rect x="262" y="263" width="2" height="1" fill="#24aa5a"/>
<rect x="264" y="263" width="1" height="1" fill="#96cd28"/>
<rect x="265" y="263" width="2" height="1" fill="#f5e61e"/>
<rect x="267" y="263" width="2" height="1" fill="#f8a514"/>
<rect x="269" y="263" width="5" height="1" fill="#f27319"/>
<rect x="274" y="263" width="10" height="1" fill="#e64619"/>
<rect x="284" y="263" width="2" height="1" fill="#f27319"/>
<rect x="286" y="263" width="1" height="1" fill="#e64619"/>
<rect x="287" y="263" width="2" height="1" fill="#f27319"/>
<rect x="289" y="263" width="2" height="1" fill="#f8a514"/>
<rect x="291" y="263" width="2" height="1" fill="#f5e61e"/>
<rect x="293" y="263" width="1" height="1" fill="#96cd28"/>
<rect x="294" y="263" width="1" height="1" fill="#24aa5a"/>
<rect x="295" y="263" width="2" height="1" fill="#1e96be"/>
<rect x="297" y="263" width="1" height="1" fill="#2a64c4"/>
<rect x="298" y="263" width="1" height="1" fill="#1e96be"/>
<rect x="258" y="264" width="3" height="1" fill="#2a64c4"/>
<rect x="261" y="264" width="1" height="1" fill="#1e96be"/>
<rect x="262" y="264" width="2" height="1" fill="#24aa5a"/>
<rect x="264" y="264" width="2" height="1" fill="#f5e61e"/>
<rect x="266" y="264" width="3" height="1" fill="#f8a514"/>
<rect x="269" y="264" width="3" height="1" fill="#f27319"/>
<rect x="272" y="264" width="3" height="1" fill="#e64619"/>
<rect x="275" y="264" width="1" height="1" fill="#f27319"/>
<rect x="276" y="264" width="3" height="1" fill="#e64619"/>
<rect x="279" y="264" width="1" height="1" fill="#f27319"/>
<rect x="280" y="264" width="5" height="1" fill="#e64619"/>
<rect x="285" y="264" width="3" height="1" fill="#f27319"/>
<rect x="288" y="264" width="3" height="1" fill="#f8a514"/>
<rect x="291" y="264" width="2" height="1" fill="#f5e61e"/>
<rect x="293" y="264" width="1" height="1" fill="#96cd28"/>
<rect x="294" y="264" width="1" height="1" fill="#24aa5a"/>
<rect x="295" y="264" width="2" height="1" fill="#1e96be"/>
<rect x="297" y="264" width="1" height="1" fill="#2a64c4"/>
<rect x="300" y="264" width="1" height="1" fill="#2a64c4"/>
<rect x="256" y="265" width="1" height="1" fill="#2a64c4"/>
<rect x="259" y="265" width="2" height="1" fill="#2a64c4"/>
<rect x="261" y="265" width="1" height="1" fill="#1e96be"/>
<rect x="262" y="265" width="2" height="1" fill="#24aa5a"/>
<rect x="264" y="265" width="1" height="1" fill="#96cd28"/>
<rect x="265" y="265" width="2" height="1" fill="#f5e61e"/>
<rect x="267" y="265" width="3" height="1" fill="#f8a514"/>
<rect x="270" y="265" width="7" height="1" fill="#f27319"/>
<rect x="277" y="265" width="1" height="1" fill="#e64619"/>
<rect x="278" y="265" width="9" height="1" fill="#f27319"/>
<rect x="287" y="265" width="3" height="1" fill="#f8a514"/>
<rect x="290" y="265" width="2" height="1" fill="#f5e61e"/>
<rect x="292" y="265" width="2" height="1" fill="#96cd28"/>
<rect x="294" y="265" width="1" height="1" fill="#24aa5a"/>
<rect x="295" y="265" width="1" height="1" fill="#1e96be"/>
<rect x="296" y="265" width="2" height="1" fill="#2a64c4"/>
<rect x="259" y="266" width="2" height="1" fill="#2a64c4"/>
<rect x="261" y="266" width="1" height="1" fill="#1e96be"/>
<rect x="262" y="266" width="3" height="1" fill="#24aa5a"/>
<rect x="265" y="266" width="1" height="1" fill="#96cd28"/>
<rect x="266" y="266" width="3" height="1" fill="#f5e61e"/>
<rect x="269" y="266" width="3" height="1" fill="#f8a514"/>
<rect x="272" y="266" width="1" height="1" fill="#f27319"/>
<rect x="273" y="266" width="1" height="1" fill="#f8a514"/>
<rect x="274" y="266" width="4" height="1" fill="#f27319"/>
<rect x="278" y="266" width="1" height="1" fill="#f8a514"/>
<rect x="279" y="266" width="1" height="1" fill="#f27319"/>
<rect x="280" y="266" width="1" height="1" fill="#f8a514"/>
<rect x="281" y="266" width="1" height="1" fill="#f27319"/>
<rect x="282" y="266" width="7" height="1" fill="#f8a514"/>
<rect x="289" y="266" width="1" height="1" fill="#f5e61e"/>
<rect x="290" y="266" width="3" height="1" fill="#96cd28"/>
<rect x="293" y="266" width="1" height="1" fill="#24aa5a"/>
<rect x="294" y="266" width="2" height="1" fill="#1e96be"/>
<rect x="296" y="266" width="2" height="1" fill="#2a64c4"/>
<rect x="257" y="267" width="1" height="1" fill="#2a64c4"/>
<rect x="261" y="267" width="1" height="1" fill="#2a64c4"/>
<rect x="262" y="267" width="2" height="1" fill="#1e96be"/>
<rect x="264" y="267" width="1" height="1" fill="#24aa5a"/>
<rect x="265" y="267" width="3" height="1" fill="#96cd28"/>
<rect x="268" y="267" width="2" height="1" fill="#f5e61e"/>
<rect x="270" y="267" width="1" height="1" fill="#f8a514"/>
<rect x="271" y="267" width="1" height="1" fill="#f5e61e"/>
<rect x="272" y="267" width="10" height="1" fill="#f8a514"/>
<rect x="282" y="267" width="1" height="1" fill="#f5e61e"/>
<rect x="283" y="267" width="1" height="1" fill="#f8a514"/>
<rect x="284" y="267" width="1" height="1" fill="#f5e61e"/>
<rect x="285" y="267" width="1" height="1" fill="#f8a514"/>
<rect x="286" y="267" width="3" height="1" fill="#f5e61e"/>
<rect x="289" y="267" width="4" height="1" fill="#24aa5a"/>
<rect x="293" y="267" width="1" height="1" fill="#1e96be"/>
<rect x="294" y="267" width="3" height="1" fill="#2a64c4"/>
<rect x="261" y="268" width="2" height="1" fill="#2a64c4"/>
<rect x="263" y="268" width="2" height="1" fill="#1e96be"/>
<rect x="265" y="268" width="2" height="1" fill="#24aa5a"/>
<rect x="267" y="268" width="3" height="1" fill="#96cd28"/>
<rect x="270" y="268" width="6" height="1" fill="#f5e61e"/>
<rect x="276" y="268" width="1" height="1" fill="#96cd28"/>
<rect x="277" y="268" width="2" height="1" fill="#f5e61e"/>
<rect x="279" y="268" width="3" height="1" fill="#96cd28"/>
<rect x="282" y="268" width="1" height="1" fill="#f5e61e"/>
<rect x="283" y="268" width="5" height="1" fill="#96cd28"/>
<rect x="288" y="268" width="2" height="1" fill="#24aa5a"/>
<rect x="290" y="268" width="3" height="1" fill="#1e96be"/>
<rect x="293" y="268" width="3" height="1" fill="#2a64c4"/>
<rect x="296" y="268" width="1" height="1" fill="#1e96be"/>
<rect x="261" y="269" width="4" height="1" fill="#2a64c4"/>
<rect x="265" y="269" width="3" height="1" fill="#1e96be"/>
<rect x="268" y="269" width="3" height="1" fill="#24aa5a"/>
<rect x="271" y="269" width="1" height="1" fill="#96cd28"/>
<rect x="272" y="269" width="1" height="1" fill="#24aa5a"/>
<rect x="273" y="269" width="1" height="1" fill="#96cd28"/>
<rect x="274" y="269" width="1" height="1" fill="#24aa5a"/>
<rect x="275" y="269" width="1" height="1" fill="#96cd28"/>
<rect x="276" y="269" width="4" height="1" fill="#24aa5a"/>
<rect x="280" y="269" width="1" height="1" fill="#96cd28"/>
<rect x="281" y="269" width="4" height="1" fill="#24aa5a"/>
<rect x="285" y="269" width="4" height="1" fill="#1e96be"/>
<rect x="289" y="269" width="5" height="1" fill="#2a64c4"/>
<rect x="261" y="270" width="3" height="1" fill="#2a64c4"/>
<rect x="265" y="270" width="4" height="1" fill="#2a64c4"/>
<rect x="269" y="270" width="9" height="1" fill="#1e96be"/>
<rect x="278" y="270" width="1" height="1" fill="#2a64c4"/>
<rect x="279" y="270" width="4" height="1" fill="#1e96be"/>
<rect x="283" y="270" width="8" height="1" fill="#2a64c4"/>
<rect x="291" y="270" width="1" height="1" fill="#1e96be"/>
<rect x="292" y="270" width="1" height="1" fill="#2a64c4"/>
<rect x="264" y="271" width="1" height="1" fill="#2a64c4"/>
<rect x="266" y="271" width="21" height="1" fill="#2a64c4"/>
<rect x="288" y="271" width="1" height="1" fill="#2a64c4"/>
<rect x="289" y="271" width="1" height="1" fill="#1e96be"/>
<rect x="291" y="271" width="1" height="1" fill="#1e96be"/>
<rect x="265" y="272" width="1" height="1" fill="#1e96be"/>
<rect x="269" y="272" width="3" height="1" fill="#1e96be"/>
<rect x="274" y="272" width="2" height="1" fill="#2a64c4"/>
<rect x="277" y="272" width="1" height="1" fill="#1e96be"/>
<rect x="281" y="272" width="1" height="1" fill="#2a64c4"/>
<rect x="283" y="272" width="1" height="1" fill="#2a64c4"/>
<rect x="277" y="273" width="1" height="1" fill="#2a64c4"/>
<line x1="225.2" y1="226.5" x2="225.2" y2="351.3" stroke="#245a84" stroke-width="1.7"/>
<line x1="224.39999999999998" y1="350.6" x2="349.3" y2="350.6" stroke="#245a84" stroke-width="1.6"/>
<path d="M223.60 337.81h1.6M223.60 333.77h1.6M223.60 330.91h1.6M223.60 328.69h1.6M223.60 326.88h1.6M223.60 325.35h1.6M223.60 324.02h1.6M223.60 322.85h1.6M223.60 313.85h1.6M223.60 309.20h1.6M223.60 305.91h1.6M223.60 303.35h1.6M223.60 301.26h1.6M223.60 299.49h1.6M223.60 297.96h1.6M223.60 296.61h1.6M223.60 286.88h1.6M223.60 281.90h1.6M223.60 278.36h1.6M223.60 275.62h1.6M223.60 273.38h1.6M223.60 271.48h1.6M223.60 269.84h1.6M223.60 268.39h1.6M223.60 258.43h1.6M223.60 253.36h1.6M223.60 249.76h1.6M223.60 246.97h1.6M223.60 244.69h1.6M223.60 242.76h1.6M223.60 241.09h1.6M223.60 239.62h1.6M223.60 229.63h1.6M223.00 344.70h2.2M223.00 321.80h2.2M223.00 295.40h2.2M223.00 267.10h2.2M223.00 238.30h2.2M237.85 350.60v1.6M241.57 350.60v1.6M244.20 350.60v1.6M246.25 350.60v1.6M247.92 350.60v1.6M249.33 350.60v1.6M250.56 350.60v1.6M251.63 350.60v1.6M260.76 350.60v1.6M265.53 350.60v1.6M268.92 350.60v1.6M271.54 350.60v1.6M273.69 350.60v1.6M275.50 350.60v1.6M277.07 350.60v1.6M278.46 350.60v1.6M288.25 350.60v1.6M293.25 350.60v1.6M296.80 350.60v1.6M299.55 350.60v1.6M301.80 350.60v1.6M303.70 350.60v1.6M305.35 350.60v1.6M306.80 350.60v1.6M316.29 350.60v1.6M321.08 350.60v1.6M324.48 350.60v1.6M327.11 350.60v1.6M329.27 350.60v1.6M331.09 350.60v1.6M332.66 350.60v1.6M334.06 350.60v1.6M343.49 350.60v1.6M348.28 350.60v1.6M231.50 350.60v2.2M252.60 350.60v2.2M279.70 350.60v2.2M308.10 350.60v2.2M335.30 350.60v2.2" stroke="#245a84" stroke-width="0.8" fill="none"/>
<text x="220.00" y="241.30" font-size="8.4" fill="#2e2e2e" text-anchor="end">10<tspan font-size="5.54" dy="-3.3">5</tspan></text>
<text x="220.00" y="270.10" font-size="8.4" fill="#2e2e2e" text-anchor="end">10<tspan font-size="5.54" dy="-3.3">4</tspan></text>
<text x="220.00" y="298.40" font-size="8.4" fill="#2e2e2e" text-anchor="end">10<tspan font-size="5.54" dy="-3.3">3</tspan></text>
<text x="220.00" y="324.80" font-size="8.4" fill="#2e2e2e" text-anchor="end">10<tspan font-size="5.54" dy="-3.3">2</tspan></text>
<text x="220.00" y="347.70" font-size="8.4" fill="#2e2e2e" text-anchor="end">10<tspan font-size="5.54" dy="-3.3">1</tspan></text>
<text x="226.20" y="365.90" font-size="8.4" fill="#2e2e2e" text-anchor="start">10<tspan font-size="5.54" dy="-3.3">1</tspan></text>
<text x="246.80" y="365.90" font-size="8.4" fill="#2e2e2e" text-anchor="start">10<tspan font-size="5.54" dy="-3.3">2</tspan></text>
<text x="274.80" y="365.90" font-size="8.4" fill="#2e2e2e" text-anchor="start">10<tspan font-size="5.54" dy="-3.3">3</tspan></text>
<text x="302.50" y="365.90" font-size="8.4" fill="#2e2e2e" text-anchor="start">10<tspan font-size="5.54" dy="-3.3">4</tspan></text>
<text x="329.20" y="365.90" font-size="8.4" fill="#2e2e2e" text-anchor="start">10<tspan font-size="5.54" dy="-3.3">5</tspan></text>
<text x="448.40" y="219.80" font-size="9.6" fill="#2a2a2a" text-anchor="middle" textLength="12.10" lengthAdjust="spacingAndGlyphs" >EV</text>
<rect x="447.6" y="245.7" width="45.69999999999999" height="38.60000000000002" fill="none" stroke="#4fa8a0" stroke-width="1.3"/>
<text x="473.8" y="278.5" font-size="8.2" fill="#288a8c" textLength="15.8" lengthAdjust="spacingAndGlyphs">12%</text>
<rect x="436" y="252" width="1" height="1" fill="#2a64c4"/>
<rect x="437" y="253" width="1" height="1" fill="#1e96be"/>
<rect x="428" y="254" width="2" height="1" fill="#2a64c4"/>
<rect x="430" y="254" width="1" height="1" fill="#1e96be"/>
<rect x="431" y="254" width="11" height="1" fill="#2a64c4"/>
<rect x="428" y="255" width="1" height="1" fill="#1e96be"/>
<rect x="429" y="255" width="3" height="1" fill="#2a64c4"/>
<rect x="432" y="255" width="1" height="1" fill="#1e96be"/>
<rect x="433" y="255" width="1" height="1" fill="#2a64c4"/>
<rect x="434" y="255" width="7" height="1" fill="#1e96be"/>
<rect x="441" y="255" width="2" height="1" fill="#2a64c4"/>
<rect x="445" y="255" width="1" height="1" fill="#2a64c4"/>
<rect x="446" y="255" width="1" height="1" fill="#1e96be"/>
<rect x="428" y="256" width="2" height="1" fill="#2a64c4"/>
<rect x="430" y="256" width="3" height="1" fill="#1e96be"/>
<rect x="433" y="256" width="3" height="1" fill="#24aa5a"/>
<rect x="436" y="256" width="1" height="1" fill="#96cd28"/>
<rect x="437" y="256" width="1" height="1" fill="#24aa5a"/>
<rect x="438" y="256" width="1" height="1" fill="#96cd28"/>
<rect x="439" y="256" width="2" height="1" fill="#24aa5a"/>
<rect x="441" y="256" width="1" height="1" fill="#1e96be"/>
<rect x="442" y="256" width="4" height="1" fill="#2a64c4"/>
<rect x="449" y="256" width="2" height="1" fill="#1e96be"/>
<rect x="425" y="257" width="1" height="1" fill="#1e96be"/>
<rect x="427" y="257" width="1" height="1" fill="#2a64c4"/>
<rect x="428" y="257" width="2" height="1" fill="#1e96be"/>
<rect x="430" y="257" width="1" height="1" fill="#24aa5a"/>
<rect x="431" y="257" width="1" height="1" fill="#96cd28"/>
<rect x="432" y="257" width="1" height="1" fill="#24aa5a"/>
<rect x="433" y="257" width="1" height="1" fill="#96cd28"/>
<rect x="434" y="257" width="5" height="1" fill="#f5e61e"/>
<rect x="439" y="257" width="2" height="1" fill="#96cd28"/>
<rect x="441" y="257" width="1" height="1" fill="#24aa5a"/>
<rect x="442" y="257" width="2" height="1" fill="#1e96be"/>
<rect x="444" y="257" width="4" height="1" fill="#2a64c4"/>
<rect x="448" y="257" width="1" height="1" fill="#1e96be"/>
<rect x="455" y="257" width="1" height="1" fill="#2a64c4"/>
<rect x="427" y="258" width="1" height="1" fill="#2a64c4"/>
<rect x="428" y="258" width="1" height="1" fill="#1e96be"/>
<rect x="429" y="258" width="1" height="1" fill="#24aa5a"/>
<rect x="430" y="258" width="2" height="1" fill="#96cd28"/>
<rect x="432" y="258" width="1" height="1" fill="#f5e61e"/>
<rect x="433" y="258" width="6" height="1" fill="#f8a514"/>
<rect x="439" y="258" width="2" height="1" fill="#f5e61e"/>
<rect x="441" y="258" width="2" height="1" fill="#96cd28"/>
<rect x="443" y="258" width="1" height="1" fill="#24aa5a"/>
<rect x="444" y="258" width="1" height="1" fill="#1e96be"/>
<rect x="445" y="258" width="6" height="1" fill="#2a64c4"/>
<rect x="451" y="258" width="1" height="1" fill="#1e96be"/>
<rect x="452" y="258" width="1" height="1" fill="#2a64c4"/>
<rect x="425" y="259" width="2" height="1" fill="#2a64c4"/>
<rect x="427" y="259" width="1" height="1" fill="#1e96be"/>
<rect x="428" y="259" width="1" height="1" fill="#24aa5a"/>
<rect x="429" y="259" width="1" height="1" fill="#96cd28"/>
<rect x="430" y="259" width="1" height="1" fill="#f5e61e"/>
<rect x="431" y="259" width="5" height="1" fill="#f8a514"/>
<rect x="436" y="259" width="2" height="1" fill="#f27319"/>
<rect x="438" y="259" width="2" height="1" fill="#f8a514"/>
<rect x="440" y="259" width="2" height="1" fill="#f5e61e"/>
<rect x="442" y="259" width="1" height="1" fill="#96cd28"/>
<rect x="443" y="259" width="2" height="1" fill="#24aa5a"/>
<rect x="445" y="259" width="2" height="1" fill="#1e96be"/>
<rect x="447" y="259" width="7" height="1" fill="#2a64c4"/>
<rect x="455" y="259" width="1" height="1" fill="#2a64c4"/>
<rect x="457" y="259" width="1" height="1" fill="#2a64c4"/>
<rect x="424" y="260" width="1" height="1" fill="#2a64c4"/>
<rect x="426" y="260" width="1" height="1" fill="#2a64c4"/>
<rect x="427" y="260" width="1" height="1" fill="#1e96be"/>
<rect x="428" y="260" width="1" height="1" fill="#24aa5a"/>
<rect x="429" y="260" width="1" height="1" fill="#f5e61e"/>
<rect x="430" y="260" width="3" height="1" fill="#f8a514"/>
<rect x="433" y="260" width="6" height="1" fill="#f27319"/>
<rect x="439" y="260" width="3" height="1" fill="#f8a514"/>
<rect x="442" y="260" width="1" height="1" fill="#f5e61e"/>
<rect x="443" y="260" width="1" height="1" fill="#96cd28"/>
<rect x="444" y="260" width="4" height="1" fill="#24aa5a"/>
<rect x="448" y="260" width="1" height="1" fill="#1e96be"/>
<rect x="449" y="260" width="1" height="1" fill="#2a64c4"/>
<rect x="450" y="260" width="1" height="1" fill="#1e96be"/>
<rect x="451" y="260" width="4" height="1" fill="#2a64c4"/>
<rect x="456" y="260" width="1" height="1" fill="#2a64c4"/>
<rect x="425" y="261" width="2" height="1" fill="#2a64c4"/>
<rect x="427" y="261" width="1" height="1" fill="#24aa5a"/>
<rect x="428" y="261" width="1" height="1" fill="#96cd28"/>
<rect x="429" y="261" width="1" height="1" fill="#f5e61e"/>
<rect x="430" y="261" width="2" height="1" fill="#f8a514"/>
<rect x="432" y="261" width="2" height="1" fill="#f27319"/>
<rect x="434" y="261" width="2" height="1" fill="#e64619"/>
<rect x="436" y="261" width="1" height="1" fill="#f27319"/>
<rect x="437" y="261" width="1" height="1" fill="#e64619"/>
<rect x="438" y="261" width="2" height="1" fill="#f27319"/>
<rect x="440" y="261" width="3" height="1" fill="#f8a514"/>
<rect x="443" y="261" width="1" height="1" fill="#f5e61e"/>
<rect x="444" y="261" width="2" height="1" fill="#96cd28"/>
<rect x="446" y="261" width="1" height="1" fill="#24aa5a"/>
<rect x="447" y="261" width="4" height="1" fill="#1e96be"/>
<rect x="451" y="261" width="2" height="1" fill="#2a64c4"/>
<rect x="453" y="261" width="1" height="1" fill="#1e96be"/>
<rect x="454" y="261" width="3" height="1" fill="#2a64c4"/>
<rect x="459" y="261" width="1" height="1" fill="#2a64c4"/>
<rect x="424" y="262" width="1" height="1" fill="#1e96be"/>
<rect x="425" y="262" width="2" height="1" fill="#2a64c4"/>
<rect x="427" y="262" width="1" height="1" fill="#24aa5a"/>
<rect x="428" y="262" width="2" height="1" fill="#f5e61e"/>
<rect x="430" y="262" width="1" height="1" fill="#f8a514"/>
<rect x="431" y="262" width="2" height="1" fill="#f27319"/>
<rect x="433" y="262" width="5" height="1" fill="#e64619"/>
<rect x="438" y="262" width="2" height="1" fill="#f27319"/>
<rect x="440" y="262" width="3" height="1" fill="#f8a514"/>
<rect x="443" y="262" width="2" height="1" fill="#f5e61e"/>
<rect x="445" y="262" width="1" height="1" fill="#96cd28"/>
<rect x="446" y="262" width="7" height="1" fill="#24aa5a"/>
<rect x="453" y="262" width="1" height="1" fill="#1e96be"/>
<rect x="454" y="262" width="4" height="1" fill="#2a64c4"/>
<rect x="458" y="262" width="2" height="1" fill="#1e96be"/>
<rect x="424" y="263" width="1" height="1" fill="#1e96be"/>
<rect x="425" y="263" width="1" height="1" fill="#2a64c4"/>
<rect x="426" y="263" width="1" height="1" fill="#1e96be"/>
<rect x="427" y="263" width="1" height="1" fill="#24aa5a"/>
<rect x="428" y="263" width="1" height="1" fill="#96cd28"/>
<rect x="429" y="263" width="3" height="1" fill="#f8a514"/>
<rect x="432" y="263" width="2" height="1" fill="#f27319"/>
<rect x="434" y="263" width="5" height="1" fill="#e64619"/>
<rect x="439" y="263" width="3" height="1" fill="#f27319"/>
<rect x="442" y="263" width="2" height="1" fill="#f8a514"/>
<rect x="444" y="263" width="1" height="1" fill="#f5e61e"/>
<rect x="445" y="263" width="4" height="1" fill="#96cd28"/>
<rect x="449" y="263" width="1" height="1" fill="#24aa5a"/>
<rect x="450" y="263" width="2" height="1" fill="#1e96be"/>
<rect x="452" y="263" width="1" height="1" fill="#24aa5a"/>
<rect x="453" y="263" width="1" height="1" fill="#2a64c4"/>
<rect x="454" y="263" width="2" height="1" fill="#1e96be"/>
<rect x="456" y="263" width="3" height="1" fill="#2a64c4"/>
<rect x="425" y="264" width="2" height="1" fill="#2a64c4"/>
<rect x="427" y="264" width="1" height="1" fill="#24aa5a"/>
<rect x="428" y="264" width="1" height="1" fill="#96cd28"/>
<rect x="429" y="264" width="1" height="1" fill="#f5e61e"/>
<rect x="430" y="264" width="2" height="1" fill="#f8a514"/>
<rect x="432" y="264" width="2" height="1" fill="#f27319"/>
<rect x="434" y="264" width="5" height="1" fill="#e64619"/>
<rect x="439" y="264" width="3" height="1" fill="#f27319"/>
<rect x="442" y="264" width="2" height="1" fill="#f8a514"/>
<rect x="444" y="264" width="1" height="1" fill="#f5e61e"/>
<rect x="445" y="264" width="3" height="1" fill="#96cd28"/>
<rect x="448" y="264" width="3" height="1" fill="#24aa5a"/>
<rect x="451" y="264" width="4" height="1" fill="#1e96be"/>
<rect x="455" y="264" width="3" height="1" fill="#2a64c4"/>
<rect x="458" y="264" width="1" height="1" fill="#1e96be"/>
<rect x="425" y="265" width="1" height="1" fill="#1e96be"/>
<rect x="426" y="265" width="1" height="1" fill="#2a64c4"/>
<rect x="427" y="265" width="1" height="1" fill="#1e96be"/>
<rect x="428" y="265" width="1" height="1" fill="#96cd28"/>
<rect x="429" y="265" width="1" height="1" fill="#f5e61e"/>
<rect x="430" y="265" width="2" height="1" fill="#f8a514"/>
<rect x="432" y="265" width="2" height="1" fill="#f27319"/>
<rect x="434" y="265" width="4" height="1" fill="#e64619"/>
<rect x="438" y="265" width="3" height="1" fill="#f27319"/>
<rect x="441" y="265" width="3" height="1" fill="#f8a514"/>
<rect x="444" y="265" width="1" height="1" fill="#f5e61e"/>
<rect x="445" y="265" width="1" height="1" fill="#96cd28"/>
<rect x="446" y="265" width="5" height="1" fill="#24aa5a"/>
<rect x="451" y="265" width="4" height="1" fill="#1e96be"/>
<rect x="455" y="265" width="3" height="1" fill="#2a64c4"/>
<rect x="426" y="266" width="1" height="1" fill="#2a64c4"/>
<rect x="427" y="266" width="2" height="1" fill="#24aa5a"/>
<rect x="429" y="266" width="1" height="1" fill="#f5e61e"/>
<rect x="430" y="266" width="2" height="1" fill="#f8a514"/>
<rect x="432" y="266" width="8" height="1" fill="#f27319"/>
<rect x="440" y="266" width="2" height="1" fill="#f8a514"/>
<rect x="442" y="266" width="3" height="1" fill="#f5e61e"/>
<rect x="445" y="266" width="1" height="1" fill="#24aa5a"/>
<rect x="446" y="266" width="1" height="1" fill="#96cd28"/>
<rect x="447" y="266" width="4" height="1" fill="#24aa5a"/>
<rect x="451" y="266" width="2" height="1" fill="#1e96be"/>
<rect x="453" y="266" width="5" height="1" fill="#2a64c4"/>
<rect x="426" y="267" width="1" height="1" fill="#2a64c4"/>
<rect x="427" y="267" width="1" height="1" fill="#1e96be"/>
<rect x="428" y="267" width="1" height="1" fill="#24aa5a"/>
<rect x="429" y="267" width="1" height="1" fill="#96cd28"/>
<rect x="430" y="267" width="1" height="1" fill="#f5e61e"/>
<rect x="431" y="267" width="2" height="1" fill="#f8a514"/>
<rect x="433" y="267" width="4" height="1" fill="#f27319"/>
<rect x="437" y="267" width="5" height="1" fill="#f8a514"/>
<rect x="442" y="267" width="2" height="1" fill="#f5e61e"/>
<rect x="444" y="267" width="1" height="1" fill="#96cd28"/>
<rect x="445" y="267" width="5" height="1" fill="#24aa5a"/>
<rect x="450" y="267" width="1" height="1" fill="#1e96be"/>
<rect x="451" y="267" width="6" height="1" fill="#2a64c4"/>
<rect x="426" y="268" width="2" height="1" fill="#2a64c4"/>
<rect x="428" y="268" width="1" height="1" fill="#1e96be"/>
<rect x="429" y="268" width="1" height="1" fill="#24aa5a"/>
<rect x="430" y="268" width="1" height="1" fill="#96cd28"/>
<rect x="431" y="268" width="1" height="1" fill="#f5e61e"/>
<rect x="432" y="268" width="8" height="1" fill="#f8a514"/>
<rect x="440" y="268" width="2" height="1" fill="#f5e61e"/>
<rect x="442" y="268" width="2" height="1" fill="#96cd28"/>
<rect x="444" y="268" width="2" height="1" fill="#24aa5a"/>
<rect x="446" y="268" width="4" height="1" fill="#1e96be"/>
<rect x="450" y="268" width="3" height="1" fill="#2a64c4"/>
<rect x="454" y="268" width="1" height="1" fill="#2a64c4"/>
<rect x="455" y="268" width="1" height="1" fill="#1e96be"/>
<rect x="459" y="268" width="1" height="1" fill="#2a64c4"/>
<rect x="427" y="269" width="2" height="1" fill="#2a64c4"/>
<rect x="429" y="269" width="1" height="1" fill="#1e96be"/>
<rect x="430" y="269" width="1" height="1" fill="#24aa5a"/>
<rect x="431" y="269" width="1" height="1" fill="#96cd28"/>
<rect x="432" y="269" width="8" height="1" fill="#f5e61e"/>
<rect x="440" y="269" width="2" height="1" fill="#96cd28"/>
<rect x="442" y="269" width="2" height="1" fill="#24aa5a"/>
<rect x="444" y="269" width="3" height="1" fill="#1e96be"/>
<rect x="447" y="269" width="5" height="1" fill="#2a64c4"/>
<rect x="426" y="270" width="1" height="1" fill="#1e96be"/>
<rect x="427" y="270" width="2" height="1" fill="#2a64c4"/>
<rect x="429" y="270" width="2" height="1" fill="#1e96be"/>
<rect x="431" y="270" width="1" height="1" fill="#24aa5a"/>
<rect x="432" y="270" width="2" height="1" fill="#96cd28"/>
<rect x="434" y="270" width="2" height="1" fill="#24aa5a"/>
<rect x="436" y="270" width="3" height="1" fill="#96cd28"/>
<rect x="439" y="270" width="2" height="1" fill="#24aa5a"/>
<rect x="441" y="270" width="3" height="1" fill="#1e96be"/>
<rect x="444" y="270" width="6" height="1" fill="#2a64c4"/>
<rect x="428" y="271" width="2" height="1" fill="#2a64c4"/>
<rect x="430" y="271" width="3" height="1" fill="#1e96be"/>
<rect x="433" y="271" width="1" height="1" fill="#24aa5a"/>
<rect x="434" y="271" width="1" height="1" fill="#1e96be"/>
<rect x="435" y="271" width="1" height="1" fill="#24aa5a"/>
<rect x="436" y="271" width="3" height="1" fill="#1e96be"/>
<rect x="439" y="271" width="6" height="1" fill="#2a64c4"/>
<rect x="447" y="271" width="1" height="1" fill="#1e96be"/>
<rect x="449" y="271" width="1" height="1" fill="#2a64c4"/>
<rect x="452" y="271" width="1" height="1" fill="#2a64c4"/>
<rect x="430" y="272" width="13" height="1" fill="#2a64c4"/>
<rect x="444" y="272" width="1" height="1" fill="#2a64c4"/>
<rect x="447" y="272" width="1" height="1" fill="#2a64c4"/>
<rect x="432" y="273" width="1" height="1" fill="#1e96be"/>
<rect x="436" y="273" width="1" height="1" fill="#1e96be"/>
<rect x="437" y="273" width="1" height="1" fill="#2a64c4"/>
<rect x="439" y="273" width="1" height="1" fill="#2a64c4"/>
<rect x="432" y="275" width="1" height="1" fill="#2a64c4"/>
<line x1="387.4" y1="227.8" x2="387.4" y2="351.2" stroke="#245a84" stroke-width="1.7"/>
<line x1="386.59999999999997" y1="350.5" x2="513.3" y2="350.5" stroke="#245a84" stroke-width="1.6"/>
<path d="M385.80 315.68h1.6M385.80 310.70h1.6M385.80 307.16h1.6M385.80 304.42h1.6M385.80 302.18h1.6M385.80 300.28h1.6M385.80 298.64h1.6M385.80 297.19h1.6M385.80 287.47h1.6M385.80 282.54h1.6M385.80 279.04h1.6M385.80 276.33h1.6M385.80 274.11h1.6M385.80 272.24h1.6M385.80 270.61h1.6M385.80 269.18h1.6M385.80 258.99h1.6M385.80 253.78h1.6M385.80 250.08h1.6M385.80 247.21h1.6M385.80 244.87h1.6M385.80 242.89h1.6M385.80 241.17h1.6M385.80 239.65h1.6M385.80 229.39h1.6M385.20 324.20h2.2M385.20 295.90h2.2M385.20 267.90h2.2M385.20 238.30h2.2M425.74 350.50v1.6M430.62 350.50v1.6M434.08 350.50v1.6M436.76 350.50v1.6M438.95 350.50v1.6M440.81 350.50v1.6M442.42 350.50v1.6M443.83 350.50v1.6M453.59 350.50v1.6M458.55 350.50v1.6M462.08 350.50v1.6M464.81 350.50v1.6M467.04 350.50v1.6M468.93 350.50v1.6M470.57 350.50v1.6M472.01 350.50v1.6M481.52 350.50v1.6M486.33 350.50v1.6M489.74 350.50v1.6M492.38 350.50v1.6M494.54 350.50v1.6M496.37 350.50v1.6M497.95 350.50v1.6M499.35 350.50v1.6M508.82 350.50v1.6M417.40 350.50v2.2M445.10 350.50v2.2M473.30 350.50v2.2M500.60 350.50v2.2" stroke="#245a84" stroke-width="0.8" fill="none"/>
<text x="382.00" y="241.30" font-size="8.4" fill="#2e2e2e" text-anchor="end">10<tspan font-size="5.54" dy="-3.3">5</tspan></text>
<text x="382.00" y="270.90" font-size="8.4" fill="#2e2e2e" text-anchor="end">10<tspan font-size="5.54" dy="-3.3">4</tspan></text>
<text x="382.00" y="298.90" font-size="8.4" fill="#2e2e2e" text-anchor="end">10<tspan font-size="5.54" dy="-3.3">3</tspan></text>
<text x="381.00" y="327.20" font-size="8.4" fill="#2e2e2e" text-anchor="end">10<tspan font-size="5.54" dy="-3.3">2</tspan></text>
<text x="381.00" y="340.70" font-size="8.4" fill="#2e2e2e" text-anchor="end">−10<tspan font-size="5.54" dy="-3.3">1</tspan></text>
<text x="381.50" y="351.40" font-size="8.4" fill="#2e2e2e" text-anchor="end">−10<tspan font-size="5.54" dy="-3.3">2</tspan></text>
<text x="379.90" y="366.80" font-size="8.4" fill="#2e2e2e" text-anchor="start">−10<tspan font-size="5.54" dy="-3.3">0</tspan></text>
<text x="411.80" y="366.80" font-size="8.4" fill="#2e2e2e" text-anchor="start">10<tspan font-size="5.54" dy="-3.3">2</tspan></text>
<text x="439.80" y="366.80" font-size="8.4" fill="#2e2e2e" text-anchor="start">10<tspan font-size="5.54" dy="-3.3">3</tspan></text>
<text x="467.50" y="366.80" font-size="8.4" fill="#2e2e2e" text-anchor="start">10<tspan font-size="5.54" dy="-3.3">4</tspan></text>
<text x="495.20" y="366.80" font-size="8.4" fill="#2e2e2e" text-anchor="start">10<tspan font-size="5.54" dy="-3.3">5</tspan></text>
<rect x="385.0" y="335.6" width="1.8" height="2.2" fill="#1d4f78"/>
<rect x="388.2" y="351.0" width="5.5" height="1.6" fill="#1d4f78" opacity="0.8"/>
<text x="7.40" y="408.40" font-size="10.8" fill="#111" text-anchor="start" font-weight="bold" >C</text>
<line x1="52.8" y1="416.3" x2="52.8" y2="526.3000000000001" stroke="#3a3a3a" stroke-width="1.2"/>
<line x1="52.6" y1="525.7" x2="198.5" y2="525.7" stroke="#3a3a3a" stroke-width="1.3"/>
<line x1="49.9" y1="525.70" x2="52.8" y2="525.70" stroke="#3a3a3a" stroke-width="1"/>
<text x="46.40" y="528.70" font-size="8.5" fill="#333" text-anchor="end" textLength="4.30" lengthAdjust="spacingAndGlyphs" >0</text>
<line x1="49.9" y1="504.33" x2="52.8" y2="504.33" stroke="#3a3a3a" stroke-width="1"/>
<text x="46.40" y="507.33" font-size="8.5" fill="#333" text-anchor="end" textLength="8.60" lengthAdjust="spacingAndGlyphs" >20</text>
<line x1="49.9" y1="482.96" x2="52.8" y2="482.96" stroke="#3a3a3a" stroke-width="1"/>
<text x="46.40" y="485.96" font-size="8.5" fill="#333" text-anchor="end" textLength="8.60" lengthAdjust="spacingAndGlyphs" >40</text>
<line x1="49.9" y1="461.59" x2="52.8" y2="461.59" stroke="#3a3a3a" stroke-width="1"/>
<text x="46.40" y="464.59" font-size="8.5" fill="#333" text-anchor="end" textLength="8.60" lengthAdjust="spacingAndGlyphs" >60</text>
<line x1="49.9" y1="440.22" x2="52.8" y2="440.22" stroke="#3a3a3a" stroke-width="1"/>
<text x="46.40" y="443.22" font-size="8.5" fill="#333" text-anchor="end" textLength="8.60" lengthAdjust="spacingAndGlyphs" >80</text>
<line x1="49.9" y1="418.85" x2="52.8" y2="418.85" stroke="#3a3a3a" stroke-width="1"/>
<text x="46.40" y="421.85" font-size="8.5" fill="#333" text-anchor="end" textLength="12.90" lengthAdjust="spacingAndGlyphs" >100</text>
<line x1="67.60" y1="525.7" x2="67.60" y2="528.3000000000001" stroke="#3a3a3a" stroke-width="1"/>
<text x="67.60" y="539.40" font-size="8.5" fill="#333" text-anchor="middle" textLength="4.30" lengthAdjust="spacingAndGlyphs" >0</text>
<line x1="97.42" y1="525.7" x2="97.42" y2="528.3000000000001" stroke="#3a3a3a" stroke-width="1"/>
<text x="97.42" y="539.40" font-size="8.5" fill="#333" text-anchor="middle" textLength="4.30" lengthAdjust="spacingAndGlyphs" >3</text>
<line x1="127.25" y1="525.7" x2="127.25" y2="528.3000000000001" stroke="#3a3a3a" stroke-width="1"/>
<text x="127.25" y="539.40" font-size="8.5" fill="#333" text-anchor="middle" textLength="4.30" lengthAdjust="spacingAndGlyphs" >6</text>
<line x1="157.07" y1="525.7" x2="157.07" y2="528.3000000000001" stroke="#3a3a3a" stroke-width="1"/>
<text x="157.07" y="539.40" font-size="8.5" fill="#333" text-anchor="middle" textLength="4.30" lengthAdjust="spacingAndGlyphs" >9</text>
<line x1="186.90" y1="525.7" x2="186.90" y2="528.3000000000001" stroke="#3a3a3a" stroke-width="1"/>
<text x="186.90" y="539.40" font-size="8.5" fill="#333" text-anchor="middle" textLength="8.60" lengthAdjust="spacingAndGlyphs" >12</text>
<text x="126.10" y="552.60" font-size="9.6" fill="#333" text-anchor="middle" textLength="94.50" lengthAdjust="spacingAndGlyphs" >Days after cytokine removal</text>
<text x="0.00" y="0.00" font-size="9.6" fill="#333" text-anchor="middle" textLength="54.50" lengthAdjust="spacingAndGlyphs" transform="translate(27.2,470.6) rotate(-90)">Cell viability (%)</text>
<polyline points="67.60,432.74 97.42,450.91 127.25,474.41 157.07,460.52 186.90,464.80" fill="none" stroke="#cfc6ca" stroke-width="1.2"/>
<circle cx="67.60" cy="432.74" r="2.15" fill="#cfc6ca"/>
<circle cx="97.42" cy="450.91" r="2.15" fill="#cfc6ca"/>
<circle cx="127.25" cy="474.41" r="2.15" fill="#cfc6ca"/>
<circle cx="157.07" cy="460.52" r="2.15" fill="#cfc6ca"/>
<circle cx="186.90" cy="464.80" r="2.15" fill="#cfc6ca"/>
<polyline points="67.60,434.88 97.42,439.15 127.25,435.95 157.07,454.11 186.90,470.14" fill="none" stroke="#a9ba92" stroke-width="1.2"/>
<circle cx="67.60" cy="434.88" r="2.15" fill="#a9ba92"/>
<circle cx="97.42" cy="439.15" r="2.15" fill="#a9ba92"/>
<circle cx="127.25" cy="435.95" r="2.15" fill="#a9ba92"/>
<circle cx="157.07" cy="454.11" r="2.15" fill="#a9ba92"/>
<circle cx="186.90" cy="470.14" r="2.15" fill="#a9ba92"/>
<polyline points="67.60,440.22 97.42,433.81 127.25,440.22 157.07,525.70" fill="none" stroke="#dc8478" stroke-width="1.2"/>
<circle cx="67.60" cy="440.22" r="2.15" fill="#dc8478"/>
<circle cx="97.42" cy="433.81" r="2.15" fill="#dc8478"/>
<circle cx="127.25" cy="440.22" r="2.15" fill="#dc8478"/>
<circle cx="157.07" cy="525.70" r="2.15" fill="#dc8478"/>
<polyline points="67.60,434.88 97.42,447.70 127.25,478.69 157.07,525.70" fill="none" stroke="#e9a12f" stroke-width="1.2"/>
<circle cx="67.60" cy="434.88" r="2.15" fill="#e9a12f"/>
<circle cx="97.42" cy="447.70" r="2.15" fill="#e9a12f"/>
<circle cx="127.25" cy="478.69" r="2.15" fill="#e9a12f"/>
<circle cx="157.07" cy="525.70" r="2.15" fill="#e9a12f"/>
<polyline points="67.60,432.74 97.42,454.11 127.25,464.80 157.07,525.70" fill="none" stroke="#d81b78" stroke-width="1.2"/>
<circle cx="67.60" cy="432.74" r="2.15" fill="#d81b78"/>
<circle cx="97.42" cy="454.11" r="2.15" fill="#d81b78"/>
<circle cx="127.25" cy="464.80" r="2.15" fill="#d81b78"/>
<circle cx="157.07" cy="525.70" r="2.15" fill="#d81b78"/>
<polyline points="67.60,427.40 97.42,492.58 127.25,472.28 157.07,525.70" fill="none" stroke="#b8103a" stroke-width="1.2"/>
<circle cx="67.60" cy="427.40" r="2.15" fill="#b8103a"/>
<circle cx="97.42" cy="492.58" r="2.15" fill="#b8103a"/>
<circle cx="127.25" cy="472.28" r="2.15" fill="#b8103a"/>
<circle cx="157.07" cy="525.70" r="2.15" fill="#b8103a"/>
<polyline points="67.60,432.74 97.42,479.75 127.25,459.45 157.07,456.25 186.90,445.56" fill="none" stroke="#3d4758" stroke-width="1.2"/>
<circle cx="67.60" cy="432.74" r="2.15" fill="#3d4758"/>
<circle cx="97.42" cy="479.75" r="2.15" fill="#3d4758"/>
<circle cx="127.25" cy="459.45" r="2.15" fill="#3d4758"/>
<circle cx="157.07" cy="456.25" r="2.15" fill="#3d4758"/>
<circle cx="186.90" cy="445.56" r="2.15" fill="#3d4758"/>
<polyline points="67.60,447.70 97.42,482.96 127.25,475.48 157.07,471.21 186.90,464.80" fill="none" stroke="#1c4a7e" stroke-width="1.2"/>
<circle cx="67.60" cy="447.70" r="2.15" fill="#1c4a7e"/>
<circle cx="97.42" cy="482.96" r="2.15" fill="#1c4a7e"/>
<circle cx="127.25" cy="475.48" r="2.15" fill="#1c4a7e"/>
<circle cx="157.07" cy="471.21" r="2.15" fill="#1c4a7e"/>
<circle cx="186.90" cy="464.80" r="2.15" fill="#1c4a7e"/>
<circle cx="218.3" cy="435.70" r="2.1" fill="#1c4a7e"/>
<text x="223.80" y="438.70" font-size="8.2" fill="#333" text-anchor="start" >ERG WT</text>
<circle cx="218.3" cy="447.71" r="2.1" fill="#cfc6ca"/>
<text x="223.80" y="450.71" font-size="8.2" fill="#333" text-anchor="start" >P116R</text>
<circle cx="218.3" cy="459.72" r="2.1" fill="#3d4758"/>
<text x="223.80" y="462.72" font-size="8.2" fill="#333" text-anchor="start" >M219I</text>
<circle cx="218.3" cy="471.73" r="2.1" fill="#a9ba92"/>
<text x="223.80" y="474.73" font-size="8.2" fill="#333" text-anchor="start" >D345N</text>
<circle cx="218.3" cy="483.74" r="2.1" fill="#b8103a"/>
<text x="223.80" y="486.74" font-size="8.2" fill="#333" text-anchor="start" >Untransduced FLC</text>
<circle cx="218.3" cy="495.75" r="2.1" fill="#dc8478"/>
<text x="223.80" y="498.75" font-size="8.2" fill="#333" text-anchor="start" >R370P</text>
<circle cx="218.3" cy="507.76" r="2.1" fill="#e9a12f"/>
<text x="223.80" y="510.76" font-size="8.2" fill="#333" text-anchor="start" >Y372*</text>
<circle cx="218.3" cy="519.77" r="2.1" fill="#d81b78"/>
<text x="223.80" y="522.77" font-size="8.2" fill="#333" text-anchor="start" >Y373C</text>
<rect x="0.5" y="0.5" width="519" height="561" fill="none" stroke="#555" stroke-width="1"/>
</svg></div></body></html>
